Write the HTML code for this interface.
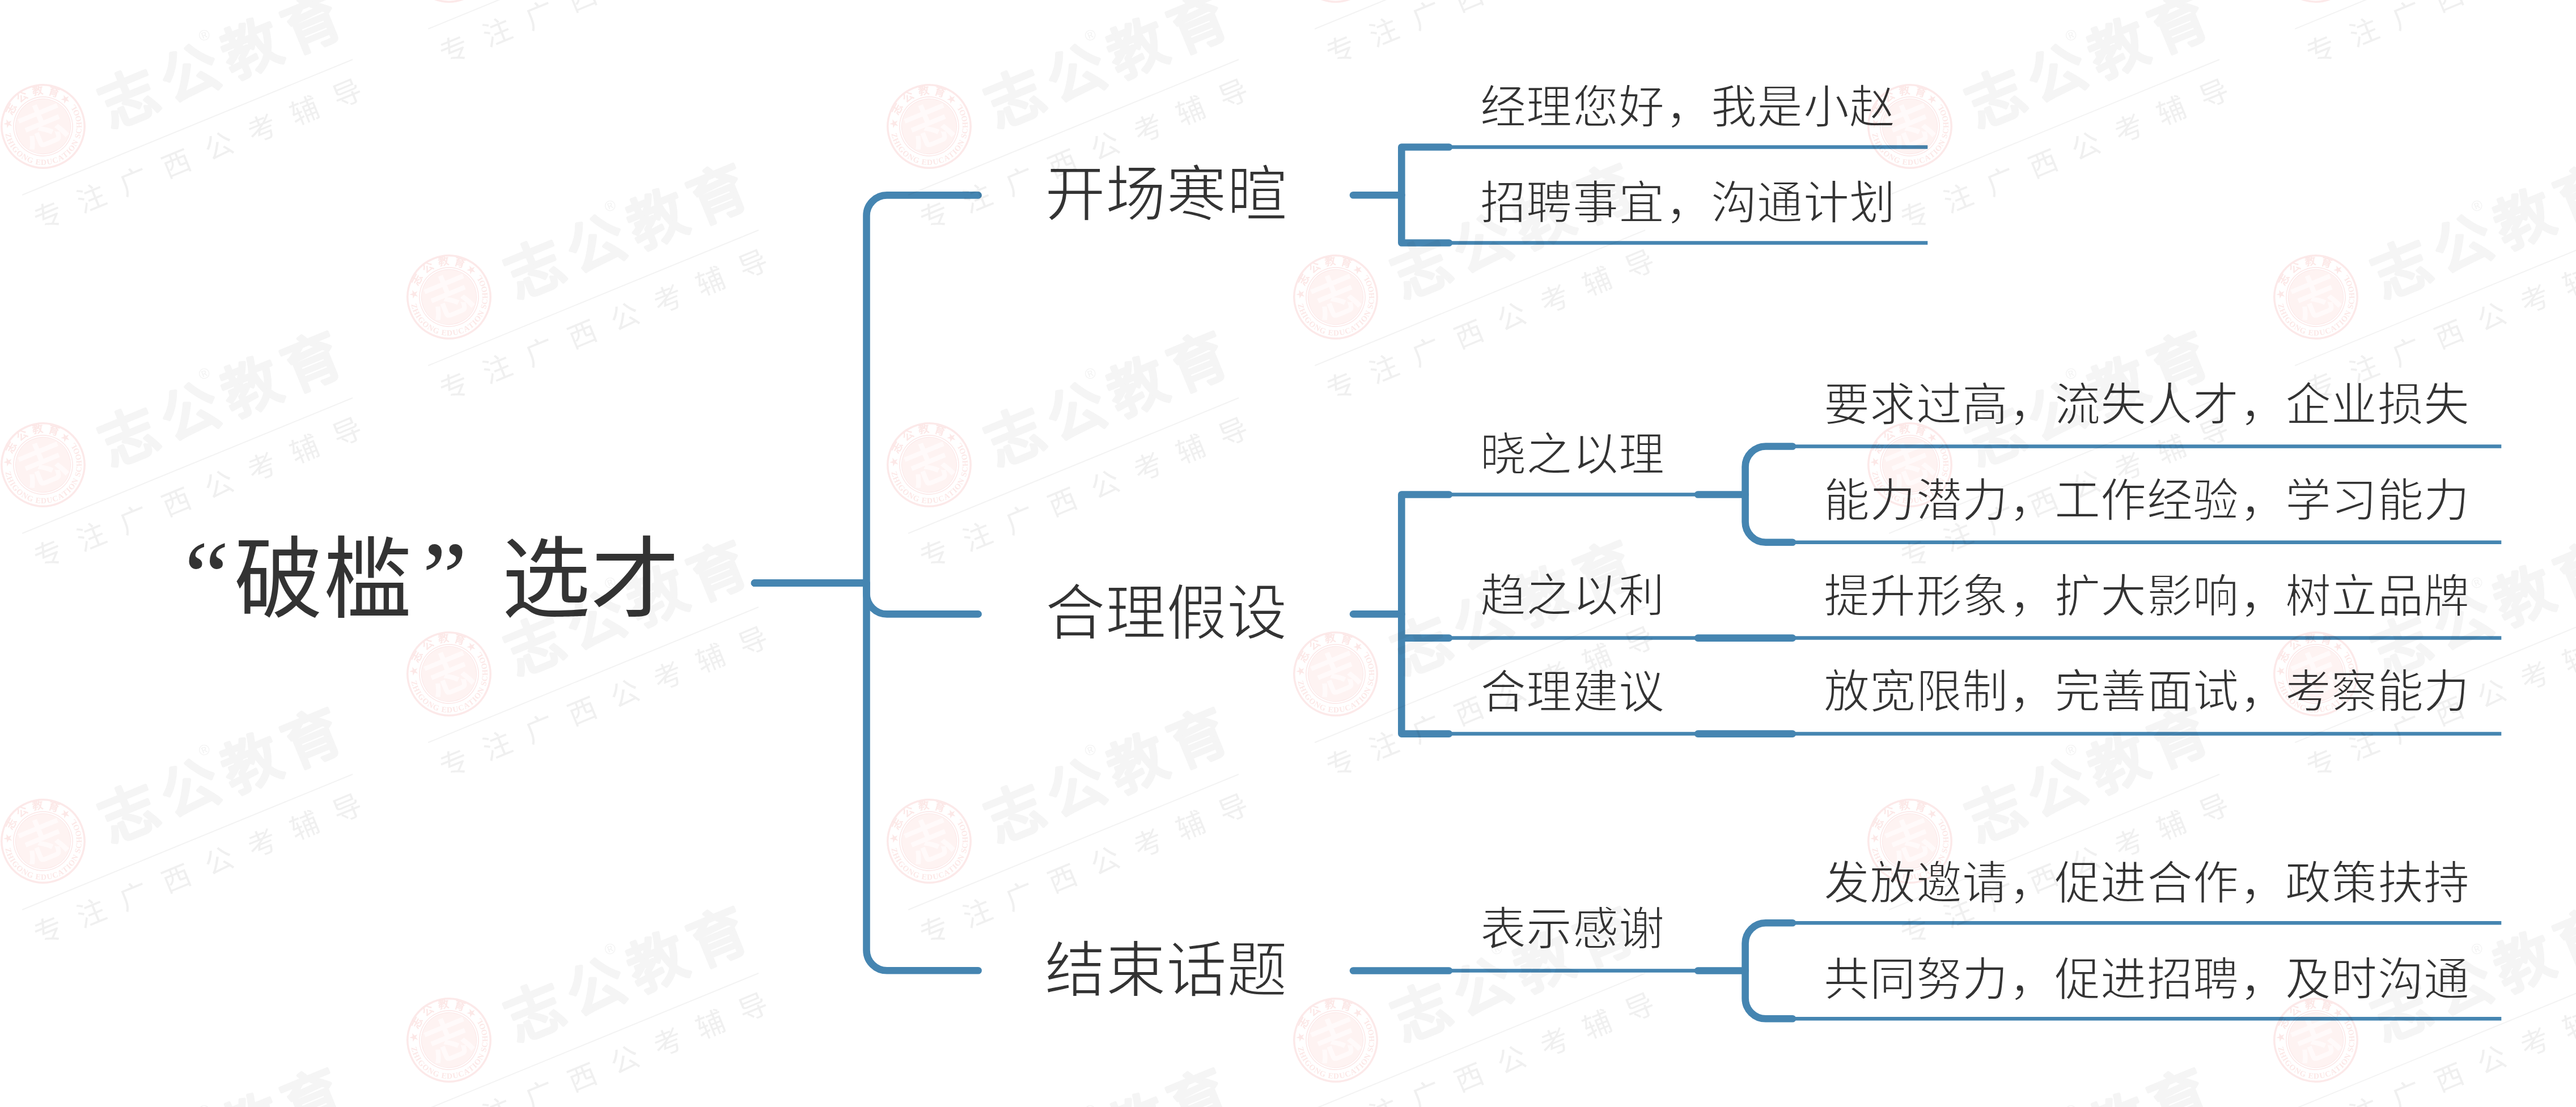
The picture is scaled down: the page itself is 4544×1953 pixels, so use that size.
<!DOCTYPE html>
<html lang="zh-CN"><head><meta charset="utf-8"><title>破槛选才</title>
<style>
html,body{margin:0;padding:0;background:#fff;overflow:hidden;}
body{width:4544px;height:1953px;position:relative;overflow:hidden;font-family:"Liberation Serif",serif;color:#333333;}
.t{position:absolute;white-space:nowrap;line-height:1;}
svg{position:absolute;left:0;top:0;}
.wm{mix-blend-mode:multiply;pointer-events:none;}
</style></head><body>
<svg width="4544" height="1953" viewBox="0 0 4544 1953">
<g fill="none" stroke="#4585b1" stroke-linecap="butt"><path stroke-width="6.5" d="M2472.3 259.5H3400.3M2472.3 428.5H3400.3M2472.3 872.5H2996M2472.3 1125.6H4412.3M2472.3 1294.6H4412.3M2472.3 1712.5H2996M3114.6 787.5H4412.3M3114.6 956.8H4412.3M3114.6 1628.3H4412.3M3114.6 1797.3H4412.3"/></g>
<g fill="none" stroke="#4585b1" stroke-linecap="round" stroke-linejoin="round" stroke-width="12.6">
<path d="M1331 1028.6H1528.5V380.4A36 36 0 0 1 1564.5 344.4H1725.6"/>
<path d="M1331 1028.6H1528.5V1047.4A36 36 0 0 0 1564.5 1083.4H1725.6"/>
<path d="M1331 1028.6H1528.5V1676.3A36 36 0 0 0 1564.5 1712.3H1725.6"/>
<path d="M2387 344.3H2472.3"/>
<path d="M2556 259.5H2472.3V428.5H2556"/>
<path d="M2387 1083.4H2472.3"/>
<path d="M2556 872.5H2472.3V1294.6H2556M2472.3 1125.6H2556"/>
<path d="M2387 1712.5H2556"/>
<path d="M2995 872.5H3078.6"/>
<path d="M3162 787.5H3114.6A36 36 0 0 0 3078.6 823.5V920.8A36 36 0 0 0 3114.6 956.8H3162"/>
<path d="M2995 1125.6H3162M2995 1294.6H3162"/>
<path d="M2995 1712.5H3078.6"/>
<path d="M3162 1628.3H3114.6A36 36 0 0 0 3078.6 1664.3V1761.3A36 36 0 0 0 3114.6 1797.3H3162"/>
</g></svg>
<div class="t" style="left:325px;top:928px;font-size:178px;font-weight:400;">“</div>
<div class="t" style="left:413px;top:947px;font-size:156.5px;font-weight:500;">破槛</div>
<div class="t" style="left:745px;top:930px;font-size:178px;font-weight:400;">”</div>
<div class="t" style="left:885px;top:947px;font-size:156.5px;font-weight:500;">选才</div>
<div class="t" style="left:1843px;top:291px;font-size:107px;font-weight:400;-webkit-text-stroke:2.2px #fff;">开场寒暄</div>
<div class="t" style="left:1843px;top:1030px;font-size:107px;font-weight:400;-webkit-text-stroke:2.2px #fff;">合理假设</div>
<div class="t" style="left:1843px;top:1660px;font-size:107px;font-weight:400;-webkit-text-stroke:2.2px #fff;">结束话题</div>
<div class="t" style="left:2611px;top:150px;font-size:81px;font-weight:400;-webkit-text-stroke:1.8px #fff;letter-spacing:0.4px;">经理您好，我是小赵</div>
<div class="t" style="left:2611px;top:319px;font-size:81px;font-weight:400;-webkit-text-stroke:1.8px #fff;letter-spacing:0.4px;">招聘事宜，沟通计划</div>
<div class="t" style="left:2611px;top:763px;font-size:81px;font-weight:400;-webkit-text-stroke:1.8px #fff;letter-spacing:0.4px;">晓之以理</div>
<div class="t" style="left:2611px;top:1012px;font-size:81px;font-weight:400;-webkit-text-stroke:1.8px #fff;letter-spacing:0.4px;">趋之以利</div>
<div class="t" style="left:2611px;top:1182px;font-size:81px;font-weight:400;-webkit-text-stroke:1.8px #fff;letter-spacing:0.4px;">合理建议</div>
<div class="t" style="left:2611px;top:1600px;font-size:81px;font-weight:400;-webkit-text-stroke:1.8px #fff;letter-spacing:0.4px;">表示感谢</div>
<div class="t" style="left:3217px;top:675px;font-size:81px;font-weight:400;-webkit-text-stroke:1.8px #fff;letter-spacing:0.4px;">要求过高，流失人才，企业损失</div>
<div class="t" style="left:3217px;top:844px;font-size:81px;font-weight:400;-webkit-text-stroke:1.8px #fff;letter-spacing:0.4px;">能力潜力，工作经验，学习能力</div>
<div class="t" style="left:3217px;top:1013px;font-size:81px;font-weight:400;-webkit-text-stroke:1.8px #fff;letter-spacing:0.4px;">提升形象，扩大影响，树立品牌</div>
<div class="t" style="left:3217px;top:1181px;font-size:81px;font-weight:400;-webkit-text-stroke:1.8px #fff;letter-spacing:0.4px;">放宽限制，完善面试，考察能力</div>
<div class="t" style="left:3217px;top:1519px;font-size:81px;font-weight:400;-webkit-text-stroke:1.8px #fff;letter-spacing:0.4px;">发放邀请，促进合作，政策扶持</div>
<div class="t" style="left:3217px;top:1689px;font-size:81px;font-weight:400;-webkit-text-stroke:1.8px #fff;letter-spacing:0.4px;">共同努力，促进招聘，及时沟通</div>
<svg class="wm" width="4544" height="1953" viewBox="0 0 4544 1953" font-family="Liberation Sans, sans-serif"><g transform="translate(76 223) rotate(-22.3)"><circle r="73" fill="none" stroke="#fce9e9" stroke-width="3.5"/>
<circle r="48" fill="#fef3f2"/>
<circle r="52" fill="none" stroke="#fce9e9" stroke-width="1.6"/>
<circle r="48.5" fill="none" stroke="#fce9e9" stroke-width="1.2"/>
<text x="0" y="28" font-size="80" font-weight="bold" text-anchor="middle" fill="#fffafa">志</text>
<g fill="#fce8e7"><text x="-36.2" y="-44.0" transform="rotate(320.6 -36.2 -44.0)" font-size="19" font-weight="bold" text-anchor="middle">志</text><text x="-13.0" y="-55.5" transform="rotate(346.9 -13.0 -55.5)" font-size="19" font-weight="bold" text-anchor="middle">公</text><text x="13.0" y="-55.5" transform="rotate(373.1 13.0 -55.5)" font-size="19" font-weight="bold" text-anchor="middle">教</text><text x="36.2" y="-44.0" transform="rotate(399.4 36.2 -44.0)" font-size="19" font-weight="bold" text-anchor="middle">育</text><g font-family="Liberation Serif, serif" font-size="14" font-weight="bold"><text x="-67.4" y="-8.7" transform="rotate(97.4 -67.4 -8.7)" text-anchor="middle">Z</text><text x="-68.0" y="2.3" transform="rotate(88.0 -68.0 2.3)" text-anchor="middle">H</text><text x="-67.0" y="11.4" transform="rotate(80.3 -67.0 11.4)" text-anchor="middle">I</text><text x="-64.9" y="20.3" transform="rotate(72.7 -64.9 20.3)" text-anchor="middle">G</text><text x="-60.4" y="31.2" transform="rotate(62.7 -60.4 31.2)" text-anchor="middle">O</text><text x="-54.3" y="40.9" transform="rotate(53.0 -54.3 40.9)" text-anchor="middle">N</text><text x="-46.7" y="49.4" transform="rotate(43.4 -46.7 49.4)" text-anchor="middle">G</text><text x="-34.3" y="58.7" transform="rotate(30.3 -34.3 58.7)" text-anchor="middle">E</text><text x="-24.7" y="63.3" transform="rotate(21.3 -24.7 63.3)" text-anchor="middle">D</text><text x="-14.1" y="66.5" transform="rotate(12.0 -14.1 66.5)" text-anchor="middle">U</text><text x="-3.2" y="67.9" transform="rotate(2.7 -3.2 67.9)" text-anchor="middle">C</text><text x="7.8" y="67.5" transform="rotate(-6.6 7.8 67.5)" text-anchor="middle">A</text><text x="18.3" y="65.5" transform="rotate(-15.6 18.3 65.5)" text-anchor="middle">T</text><text x="26.2" y="62.8" transform="rotate(-22.6 26.2 62.8)" text-anchor="middle">I</text><text x="34.3" y="58.7" transform="rotate(-30.3 34.3 58.7)" text-anchor="middle">O</text><text x="43.7" y="52.1" transform="rotate(-40.0 43.7 52.1)" text-anchor="middle">N</text><text x="53.6" y="41.8" transform="rotate(-52.1 53.6 41.8)" text-anchor="middle">S</text><text x="59.1" y="33.6" transform="rotate(-60.4 59.1 33.6)" text-anchor="middle">C</text><text x="63.9" y="23.2" transform="rotate(-70.1 63.9 23.2)" text-anchor="middle">H</text><text x="67.0" y="11.8" transform="rotate(-80.0 67.0 11.8)" text-anchor="middle">O</text><text x="68.0" y="-0.0" transform="rotate(-90.0 68.0 -0.0)" text-anchor="middle">O</text><text x="67.1" y="-11.0" transform="rotate(-99.3 67.1 -11.0)" text-anchor="middle">L</text></g><text x="-54.8" y="-23" font-size="16" text-anchor="middle">★</text><text x="54.2" y="-24" font-size="16" text-anchor="middle">★</text></g>
<text x="107.7" y="49" font-size="102" letter-spacing="14.4" font-weight="bold" fill="#f5f5f5" stroke="#f5f5f5" stroke-width="2.5" stroke-linejoin="round">志公教育</text>
<text x="324" y="-32" font-size="26" text-anchor="middle" fill="#f3f3f3">®</text>
<path d="M-80 98H550" stroke="#f3f3f3" stroke-width="2"/>
<text x="-76" y="168" font-size="50" letter-spacing="31.3" fill="#f0f0f0">专注广西公考辅导</text></g>
<g transform="translate(76 820) rotate(-22.3)"><circle r="73" fill="none" stroke="#fce9e9" stroke-width="3.5"/>
<circle r="48" fill="#fef3f2"/>
<circle r="52" fill="none" stroke="#fce9e9" stroke-width="1.6"/>
<circle r="48.5" fill="none" stroke="#fce9e9" stroke-width="1.2"/>
<text x="0" y="28" font-size="80" font-weight="bold" text-anchor="middle" fill="#fffafa">志</text>
<g fill="#fce8e7"><text x="-36.2" y="-44.0" transform="rotate(320.6 -36.2 -44.0)" font-size="19" font-weight="bold" text-anchor="middle">志</text><text x="-13.0" y="-55.5" transform="rotate(346.9 -13.0 -55.5)" font-size="19" font-weight="bold" text-anchor="middle">公</text><text x="13.0" y="-55.5" transform="rotate(373.1 13.0 -55.5)" font-size="19" font-weight="bold" text-anchor="middle">教</text><text x="36.2" y="-44.0" transform="rotate(399.4 36.2 -44.0)" font-size="19" font-weight="bold" text-anchor="middle">育</text><g font-family="Liberation Serif, serif" font-size="14" font-weight="bold"><text x="-67.4" y="-8.7" transform="rotate(97.4 -67.4 -8.7)" text-anchor="middle">Z</text><text x="-68.0" y="2.3" transform="rotate(88.0 -68.0 2.3)" text-anchor="middle">H</text><text x="-67.0" y="11.4" transform="rotate(80.3 -67.0 11.4)" text-anchor="middle">I</text><text x="-64.9" y="20.3" transform="rotate(72.7 -64.9 20.3)" text-anchor="middle">G</text><text x="-60.4" y="31.2" transform="rotate(62.7 -60.4 31.2)" text-anchor="middle">O</text><text x="-54.3" y="40.9" transform="rotate(53.0 -54.3 40.9)" text-anchor="middle">N</text><text x="-46.7" y="49.4" transform="rotate(43.4 -46.7 49.4)" text-anchor="middle">G</text><text x="-34.3" y="58.7" transform="rotate(30.3 -34.3 58.7)" text-anchor="middle">E</text><text x="-24.7" y="63.3" transform="rotate(21.3 -24.7 63.3)" text-anchor="middle">D</text><text x="-14.1" y="66.5" transform="rotate(12.0 -14.1 66.5)" text-anchor="middle">U</text><text x="-3.2" y="67.9" transform="rotate(2.7 -3.2 67.9)" text-anchor="middle">C</text><text x="7.8" y="67.5" transform="rotate(-6.6 7.8 67.5)" text-anchor="middle">A</text><text x="18.3" y="65.5" transform="rotate(-15.6 18.3 65.5)" text-anchor="middle">T</text><text x="26.2" y="62.8" transform="rotate(-22.6 26.2 62.8)" text-anchor="middle">I</text><text x="34.3" y="58.7" transform="rotate(-30.3 34.3 58.7)" text-anchor="middle">O</text><text x="43.7" y="52.1" transform="rotate(-40.0 43.7 52.1)" text-anchor="middle">N</text><text x="53.6" y="41.8" transform="rotate(-52.1 53.6 41.8)" text-anchor="middle">S</text><text x="59.1" y="33.6" transform="rotate(-60.4 59.1 33.6)" text-anchor="middle">C</text><text x="63.9" y="23.2" transform="rotate(-70.1 63.9 23.2)" text-anchor="middle">H</text><text x="67.0" y="11.8" transform="rotate(-80.0 67.0 11.8)" text-anchor="middle">O</text><text x="68.0" y="-0.0" transform="rotate(-90.0 68.0 -0.0)" text-anchor="middle">O</text><text x="67.1" y="-11.0" transform="rotate(-99.3 67.1 -11.0)" text-anchor="middle">L</text></g><text x="-54.8" y="-23" font-size="16" text-anchor="middle">★</text><text x="54.2" y="-24" font-size="16" text-anchor="middle">★</text></g>
<text x="107.7" y="49" font-size="102" letter-spacing="14.4" font-weight="bold" fill="#f5f5f5" stroke="#f5f5f5" stroke-width="2.5" stroke-linejoin="round">志公教育</text>
<text x="324" y="-32" font-size="26" text-anchor="middle" fill="#f3f3f3">®</text>
<path d="M-80 98H550" stroke="#f3f3f3" stroke-width="2"/>
<text x="-76" y="168" font-size="50" letter-spacing="31.3" fill="#f0f0f0">专注广西公考辅导</text></g>
<g transform="translate(76 1484) rotate(-22.3)"><circle r="73" fill="none" stroke="#fce9e9" stroke-width="3.5"/>
<circle r="48" fill="#fef3f2"/>
<circle r="52" fill="none" stroke="#fce9e9" stroke-width="1.6"/>
<circle r="48.5" fill="none" stroke="#fce9e9" stroke-width="1.2"/>
<text x="0" y="28" font-size="80" font-weight="bold" text-anchor="middle" fill="#fffafa">志</text>
<g fill="#fce8e7"><text x="-36.2" y="-44.0" transform="rotate(320.6 -36.2 -44.0)" font-size="19" font-weight="bold" text-anchor="middle">志</text><text x="-13.0" y="-55.5" transform="rotate(346.9 -13.0 -55.5)" font-size="19" font-weight="bold" text-anchor="middle">公</text><text x="13.0" y="-55.5" transform="rotate(373.1 13.0 -55.5)" font-size="19" font-weight="bold" text-anchor="middle">教</text><text x="36.2" y="-44.0" transform="rotate(399.4 36.2 -44.0)" font-size="19" font-weight="bold" text-anchor="middle">育</text><g font-family="Liberation Serif, serif" font-size="14" font-weight="bold"><text x="-67.4" y="-8.7" transform="rotate(97.4 -67.4 -8.7)" text-anchor="middle">Z</text><text x="-68.0" y="2.3" transform="rotate(88.0 -68.0 2.3)" text-anchor="middle">H</text><text x="-67.0" y="11.4" transform="rotate(80.3 -67.0 11.4)" text-anchor="middle">I</text><text x="-64.9" y="20.3" transform="rotate(72.7 -64.9 20.3)" text-anchor="middle">G</text><text x="-60.4" y="31.2" transform="rotate(62.7 -60.4 31.2)" text-anchor="middle">O</text><text x="-54.3" y="40.9" transform="rotate(53.0 -54.3 40.9)" text-anchor="middle">N</text><text x="-46.7" y="49.4" transform="rotate(43.4 -46.7 49.4)" text-anchor="middle">G</text><text x="-34.3" y="58.7" transform="rotate(30.3 -34.3 58.7)" text-anchor="middle">E</text><text x="-24.7" y="63.3" transform="rotate(21.3 -24.7 63.3)" text-anchor="middle">D</text><text x="-14.1" y="66.5" transform="rotate(12.0 -14.1 66.5)" text-anchor="middle">U</text><text x="-3.2" y="67.9" transform="rotate(2.7 -3.2 67.9)" text-anchor="middle">C</text><text x="7.8" y="67.5" transform="rotate(-6.6 7.8 67.5)" text-anchor="middle">A</text><text x="18.3" y="65.5" transform="rotate(-15.6 18.3 65.5)" text-anchor="middle">T</text><text x="26.2" y="62.8" transform="rotate(-22.6 26.2 62.8)" text-anchor="middle">I</text><text x="34.3" y="58.7" transform="rotate(-30.3 34.3 58.7)" text-anchor="middle">O</text><text x="43.7" y="52.1" transform="rotate(-40.0 43.7 52.1)" text-anchor="middle">N</text><text x="53.6" y="41.8" transform="rotate(-52.1 53.6 41.8)" text-anchor="middle">S</text><text x="59.1" y="33.6" transform="rotate(-60.4 59.1 33.6)" text-anchor="middle">C</text><text x="63.9" y="23.2" transform="rotate(-70.1 63.9 23.2)" text-anchor="middle">H</text><text x="67.0" y="11.8" transform="rotate(-80.0 67.0 11.8)" text-anchor="middle">O</text><text x="68.0" y="-0.0" transform="rotate(-90.0 68.0 -0.0)" text-anchor="middle">O</text><text x="67.1" y="-11.0" transform="rotate(-99.3 67.1 -11.0)" text-anchor="middle">L</text></g><text x="-54.8" y="-23" font-size="16" text-anchor="middle">★</text><text x="54.2" y="-24" font-size="16" text-anchor="middle">★</text></g>
<text x="107.7" y="49" font-size="102" letter-spacing="14.4" font-weight="bold" fill="#f5f5f5" stroke="#f5f5f5" stroke-width="2.5" stroke-linejoin="round">志公教育</text>
<text x="324" y="-32" font-size="26" text-anchor="middle" fill="#f3f3f3">®</text>
<path d="M-80 98H550" stroke="#f3f3f3" stroke-width="2"/>
<text x="-76" y="168" font-size="50" letter-spacing="31.3" fill="#f0f0f0">专注广西公考辅导</text></g>
<g transform="translate(76 2120) rotate(-22.3)"><circle r="73" fill="none" stroke="#fce9e9" stroke-width="3.5"/>
<circle r="48" fill="#fef3f2"/>
<circle r="52" fill="none" stroke="#fce9e9" stroke-width="1.6"/>
<circle r="48.5" fill="none" stroke="#fce9e9" stroke-width="1.2"/>
<text x="0" y="28" font-size="80" font-weight="bold" text-anchor="middle" fill="#fffafa">志</text>
<g fill="#fce8e7"><text x="-36.2" y="-44.0" transform="rotate(320.6 -36.2 -44.0)" font-size="19" font-weight="bold" text-anchor="middle">志</text><text x="-13.0" y="-55.5" transform="rotate(346.9 -13.0 -55.5)" font-size="19" font-weight="bold" text-anchor="middle">公</text><text x="13.0" y="-55.5" transform="rotate(373.1 13.0 -55.5)" font-size="19" font-weight="bold" text-anchor="middle">教</text><text x="36.2" y="-44.0" transform="rotate(399.4 36.2 -44.0)" font-size="19" font-weight="bold" text-anchor="middle">育</text><g font-family="Liberation Serif, serif" font-size="14" font-weight="bold"><text x="-67.4" y="-8.7" transform="rotate(97.4 -67.4 -8.7)" text-anchor="middle">Z</text><text x="-68.0" y="2.3" transform="rotate(88.0 -68.0 2.3)" text-anchor="middle">H</text><text x="-67.0" y="11.4" transform="rotate(80.3 -67.0 11.4)" text-anchor="middle">I</text><text x="-64.9" y="20.3" transform="rotate(72.7 -64.9 20.3)" text-anchor="middle">G</text><text x="-60.4" y="31.2" transform="rotate(62.7 -60.4 31.2)" text-anchor="middle">O</text><text x="-54.3" y="40.9" transform="rotate(53.0 -54.3 40.9)" text-anchor="middle">N</text><text x="-46.7" y="49.4" transform="rotate(43.4 -46.7 49.4)" text-anchor="middle">G</text><text x="-34.3" y="58.7" transform="rotate(30.3 -34.3 58.7)" text-anchor="middle">E</text><text x="-24.7" y="63.3" transform="rotate(21.3 -24.7 63.3)" text-anchor="middle">D</text><text x="-14.1" y="66.5" transform="rotate(12.0 -14.1 66.5)" text-anchor="middle">U</text><text x="-3.2" y="67.9" transform="rotate(2.7 -3.2 67.9)" text-anchor="middle">C</text><text x="7.8" y="67.5" transform="rotate(-6.6 7.8 67.5)" text-anchor="middle">A</text><text x="18.3" y="65.5" transform="rotate(-15.6 18.3 65.5)" text-anchor="middle">T</text><text x="26.2" y="62.8" transform="rotate(-22.6 26.2 62.8)" text-anchor="middle">I</text><text x="34.3" y="58.7" transform="rotate(-30.3 34.3 58.7)" text-anchor="middle">O</text><text x="43.7" y="52.1" transform="rotate(-40.0 43.7 52.1)" text-anchor="middle">N</text><text x="53.6" y="41.8" transform="rotate(-52.1 53.6 41.8)" text-anchor="middle">S</text><text x="59.1" y="33.6" transform="rotate(-60.4 59.1 33.6)" text-anchor="middle">C</text><text x="63.9" y="23.2" transform="rotate(-70.1 63.9 23.2)" text-anchor="middle">H</text><text x="67.0" y="11.8" transform="rotate(-80.0 67.0 11.8)" text-anchor="middle">O</text><text x="68.0" y="-0.0" transform="rotate(-90.0 68.0 -0.0)" text-anchor="middle">O</text><text x="67.1" y="-11.0" transform="rotate(-99.3 67.1 -11.0)" text-anchor="middle">L</text></g><text x="-54.8" y="-23" font-size="16" text-anchor="middle">★</text><text x="54.2" y="-24" font-size="16" text-anchor="middle">★</text></g>
<text x="107.7" y="49" font-size="102" letter-spacing="14.4" font-weight="bold" fill="#f5f5f5" stroke="#f5f5f5" stroke-width="2.5" stroke-linejoin="round">志公教育</text>
<text x="324" y="-32" font-size="26" text-anchor="middle" fill="#f3f3f3">®</text>
<path d="M-80 98H550" stroke="#f3f3f3" stroke-width="2"/>
<text x="-76" y="168" font-size="50" letter-spacing="31.3" fill="#f0f0f0">专注广西公考辅导</text></g>
<g transform="translate(1639 223) rotate(-22.3)"><circle r="73" fill="none" stroke="#fce9e9" stroke-width="3.5"/>
<circle r="48" fill="#fef3f2"/>
<circle r="52" fill="none" stroke="#fce9e9" stroke-width="1.6"/>
<circle r="48.5" fill="none" stroke="#fce9e9" stroke-width="1.2"/>
<text x="0" y="28" font-size="80" font-weight="bold" text-anchor="middle" fill="#fffafa">志</text>
<g fill="#fce8e7"><text x="-36.2" y="-44.0" transform="rotate(320.6 -36.2 -44.0)" font-size="19" font-weight="bold" text-anchor="middle">志</text><text x="-13.0" y="-55.5" transform="rotate(346.9 -13.0 -55.5)" font-size="19" font-weight="bold" text-anchor="middle">公</text><text x="13.0" y="-55.5" transform="rotate(373.1 13.0 -55.5)" font-size="19" font-weight="bold" text-anchor="middle">教</text><text x="36.2" y="-44.0" transform="rotate(399.4 36.2 -44.0)" font-size="19" font-weight="bold" text-anchor="middle">育</text><g font-family="Liberation Serif, serif" font-size="14" font-weight="bold"><text x="-67.4" y="-8.7" transform="rotate(97.4 -67.4 -8.7)" text-anchor="middle">Z</text><text x="-68.0" y="2.3" transform="rotate(88.0 -68.0 2.3)" text-anchor="middle">H</text><text x="-67.0" y="11.4" transform="rotate(80.3 -67.0 11.4)" text-anchor="middle">I</text><text x="-64.9" y="20.3" transform="rotate(72.7 -64.9 20.3)" text-anchor="middle">G</text><text x="-60.4" y="31.2" transform="rotate(62.7 -60.4 31.2)" text-anchor="middle">O</text><text x="-54.3" y="40.9" transform="rotate(53.0 -54.3 40.9)" text-anchor="middle">N</text><text x="-46.7" y="49.4" transform="rotate(43.4 -46.7 49.4)" text-anchor="middle">G</text><text x="-34.3" y="58.7" transform="rotate(30.3 -34.3 58.7)" text-anchor="middle">E</text><text x="-24.7" y="63.3" transform="rotate(21.3 -24.7 63.3)" text-anchor="middle">D</text><text x="-14.1" y="66.5" transform="rotate(12.0 -14.1 66.5)" text-anchor="middle">U</text><text x="-3.2" y="67.9" transform="rotate(2.7 -3.2 67.9)" text-anchor="middle">C</text><text x="7.8" y="67.5" transform="rotate(-6.6 7.8 67.5)" text-anchor="middle">A</text><text x="18.3" y="65.5" transform="rotate(-15.6 18.3 65.5)" text-anchor="middle">T</text><text x="26.2" y="62.8" transform="rotate(-22.6 26.2 62.8)" text-anchor="middle">I</text><text x="34.3" y="58.7" transform="rotate(-30.3 34.3 58.7)" text-anchor="middle">O</text><text x="43.7" y="52.1" transform="rotate(-40.0 43.7 52.1)" text-anchor="middle">N</text><text x="53.6" y="41.8" transform="rotate(-52.1 53.6 41.8)" text-anchor="middle">S</text><text x="59.1" y="33.6" transform="rotate(-60.4 59.1 33.6)" text-anchor="middle">C</text><text x="63.9" y="23.2" transform="rotate(-70.1 63.9 23.2)" text-anchor="middle">H</text><text x="67.0" y="11.8" transform="rotate(-80.0 67.0 11.8)" text-anchor="middle">O</text><text x="68.0" y="-0.0" transform="rotate(-90.0 68.0 -0.0)" text-anchor="middle">O</text><text x="67.1" y="-11.0" transform="rotate(-99.3 67.1 -11.0)" text-anchor="middle">L</text></g><text x="-54.8" y="-23" font-size="16" text-anchor="middle">★</text><text x="54.2" y="-24" font-size="16" text-anchor="middle">★</text></g>
<text x="107.7" y="49" font-size="102" letter-spacing="14.4" font-weight="bold" fill="#f5f5f5" stroke="#f5f5f5" stroke-width="2.5" stroke-linejoin="round">志公教育</text>
<text x="324" y="-32" font-size="26" text-anchor="middle" fill="#f3f3f3">®</text>
<path d="M-80 98H550" stroke="#f3f3f3" stroke-width="2"/>
<text x="-76" y="168" font-size="50" letter-spacing="31.3" fill="#f0f0f0">专注广西公考辅导</text></g>
<g transform="translate(1639 820) rotate(-22.3)"><circle r="73" fill="none" stroke="#fce9e9" stroke-width="3.5"/>
<circle r="48" fill="#fef3f2"/>
<circle r="52" fill="none" stroke="#fce9e9" stroke-width="1.6"/>
<circle r="48.5" fill="none" stroke="#fce9e9" stroke-width="1.2"/>
<text x="0" y="28" font-size="80" font-weight="bold" text-anchor="middle" fill="#fffafa">志</text>
<g fill="#fce8e7"><text x="-36.2" y="-44.0" transform="rotate(320.6 -36.2 -44.0)" font-size="19" font-weight="bold" text-anchor="middle">志</text><text x="-13.0" y="-55.5" transform="rotate(346.9 -13.0 -55.5)" font-size="19" font-weight="bold" text-anchor="middle">公</text><text x="13.0" y="-55.5" transform="rotate(373.1 13.0 -55.5)" font-size="19" font-weight="bold" text-anchor="middle">教</text><text x="36.2" y="-44.0" transform="rotate(399.4 36.2 -44.0)" font-size="19" font-weight="bold" text-anchor="middle">育</text><g font-family="Liberation Serif, serif" font-size="14" font-weight="bold"><text x="-67.4" y="-8.7" transform="rotate(97.4 -67.4 -8.7)" text-anchor="middle">Z</text><text x="-68.0" y="2.3" transform="rotate(88.0 -68.0 2.3)" text-anchor="middle">H</text><text x="-67.0" y="11.4" transform="rotate(80.3 -67.0 11.4)" text-anchor="middle">I</text><text x="-64.9" y="20.3" transform="rotate(72.7 -64.9 20.3)" text-anchor="middle">G</text><text x="-60.4" y="31.2" transform="rotate(62.7 -60.4 31.2)" text-anchor="middle">O</text><text x="-54.3" y="40.9" transform="rotate(53.0 -54.3 40.9)" text-anchor="middle">N</text><text x="-46.7" y="49.4" transform="rotate(43.4 -46.7 49.4)" text-anchor="middle">G</text><text x="-34.3" y="58.7" transform="rotate(30.3 -34.3 58.7)" text-anchor="middle">E</text><text x="-24.7" y="63.3" transform="rotate(21.3 -24.7 63.3)" text-anchor="middle">D</text><text x="-14.1" y="66.5" transform="rotate(12.0 -14.1 66.5)" text-anchor="middle">U</text><text x="-3.2" y="67.9" transform="rotate(2.7 -3.2 67.9)" text-anchor="middle">C</text><text x="7.8" y="67.5" transform="rotate(-6.6 7.8 67.5)" text-anchor="middle">A</text><text x="18.3" y="65.5" transform="rotate(-15.6 18.3 65.5)" text-anchor="middle">T</text><text x="26.2" y="62.8" transform="rotate(-22.6 26.2 62.8)" text-anchor="middle">I</text><text x="34.3" y="58.7" transform="rotate(-30.3 34.3 58.7)" text-anchor="middle">O</text><text x="43.7" y="52.1" transform="rotate(-40.0 43.7 52.1)" text-anchor="middle">N</text><text x="53.6" y="41.8" transform="rotate(-52.1 53.6 41.8)" text-anchor="middle">S</text><text x="59.1" y="33.6" transform="rotate(-60.4 59.1 33.6)" text-anchor="middle">C</text><text x="63.9" y="23.2" transform="rotate(-70.1 63.9 23.2)" text-anchor="middle">H</text><text x="67.0" y="11.8" transform="rotate(-80.0 67.0 11.8)" text-anchor="middle">O</text><text x="68.0" y="-0.0" transform="rotate(-90.0 68.0 -0.0)" text-anchor="middle">O</text><text x="67.1" y="-11.0" transform="rotate(-99.3 67.1 -11.0)" text-anchor="middle">L</text></g><text x="-54.8" y="-23" font-size="16" text-anchor="middle">★</text><text x="54.2" y="-24" font-size="16" text-anchor="middle">★</text></g>
<text x="107.7" y="49" font-size="102" letter-spacing="14.4" font-weight="bold" fill="#f5f5f5" stroke="#f5f5f5" stroke-width="2.5" stroke-linejoin="round">志公教育</text>
<text x="324" y="-32" font-size="26" text-anchor="middle" fill="#f3f3f3">®</text>
<path d="M-80 98H550" stroke="#f3f3f3" stroke-width="2"/>
<text x="-76" y="168" font-size="50" letter-spacing="31.3" fill="#f0f0f0">专注广西公考辅导</text></g>
<g transform="translate(1639 1484) rotate(-22.3)"><circle r="73" fill="none" stroke="#fce9e9" stroke-width="3.5"/>
<circle r="48" fill="#fef3f2"/>
<circle r="52" fill="none" stroke="#fce9e9" stroke-width="1.6"/>
<circle r="48.5" fill="none" stroke="#fce9e9" stroke-width="1.2"/>
<text x="0" y="28" font-size="80" font-weight="bold" text-anchor="middle" fill="#fffafa">志</text>
<g fill="#fce8e7"><text x="-36.2" y="-44.0" transform="rotate(320.6 -36.2 -44.0)" font-size="19" font-weight="bold" text-anchor="middle">志</text><text x="-13.0" y="-55.5" transform="rotate(346.9 -13.0 -55.5)" font-size="19" font-weight="bold" text-anchor="middle">公</text><text x="13.0" y="-55.5" transform="rotate(373.1 13.0 -55.5)" font-size="19" font-weight="bold" text-anchor="middle">教</text><text x="36.2" y="-44.0" transform="rotate(399.4 36.2 -44.0)" font-size="19" font-weight="bold" text-anchor="middle">育</text><g font-family="Liberation Serif, serif" font-size="14" font-weight="bold"><text x="-67.4" y="-8.7" transform="rotate(97.4 -67.4 -8.7)" text-anchor="middle">Z</text><text x="-68.0" y="2.3" transform="rotate(88.0 -68.0 2.3)" text-anchor="middle">H</text><text x="-67.0" y="11.4" transform="rotate(80.3 -67.0 11.4)" text-anchor="middle">I</text><text x="-64.9" y="20.3" transform="rotate(72.7 -64.9 20.3)" text-anchor="middle">G</text><text x="-60.4" y="31.2" transform="rotate(62.7 -60.4 31.2)" text-anchor="middle">O</text><text x="-54.3" y="40.9" transform="rotate(53.0 -54.3 40.9)" text-anchor="middle">N</text><text x="-46.7" y="49.4" transform="rotate(43.4 -46.7 49.4)" text-anchor="middle">G</text><text x="-34.3" y="58.7" transform="rotate(30.3 -34.3 58.7)" text-anchor="middle">E</text><text x="-24.7" y="63.3" transform="rotate(21.3 -24.7 63.3)" text-anchor="middle">D</text><text x="-14.1" y="66.5" transform="rotate(12.0 -14.1 66.5)" text-anchor="middle">U</text><text x="-3.2" y="67.9" transform="rotate(2.7 -3.2 67.9)" text-anchor="middle">C</text><text x="7.8" y="67.5" transform="rotate(-6.6 7.8 67.5)" text-anchor="middle">A</text><text x="18.3" y="65.5" transform="rotate(-15.6 18.3 65.5)" text-anchor="middle">T</text><text x="26.2" y="62.8" transform="rotate(-22.6 26.2 62.8)" text-anchor="middle">I</text><text x="34.3" y="58.7" transform="rotate(-30.3 34.3 58.7)" text-anchor="middle">O</text><text x="43.7" y="52.1" transform="rotate(-40.0 43.7 52.1)" text-anchor="middle">N</text><text x="53.6" y="41.8" transform="rotate(-52.1 53.6 41.8)" text-anchor="middle">S</text><text x="59.1" y="33.6" transform="rotate(-60.4 59.1 33.6)" text-anchor="middle">C</text><text x="63.9" y="23.2" transform="rotate(-70.1 63.9 23.2)" text-anchor="middle">H</text><text x="67.0" y="11.8" transform="rotate(-80.0 67.0 11.8)" text-anchor="middle">O</text><text x="68.0" y="-0.0" transform="rotate(-90.0 68.0 -0.0)" text-anchor="middle">O</text><text x="67.1" y="-11.0" transform="rotate(-99.3 67.1 -11.0)" text-anchor="middle">L</text></g><text x="-54.8" y="-23" font-size="16" text-anchor="middle">★</text><text x="54.2" y="-24" font-size="16" text-anchor="middle">★</text></g>
<text x="107.7" y="49" font-size="102" letter-spacing="14.4" font-weight="bold" fill="#f5f5f5" stroke="#f5f5f5" stroke-width="2.5" stroke-linejoin="round">志公教育</text>
<text x="324" y="-32" font-size="26" text-anchor="middle" fill="#f3f3f3">®</text>
<path d="M-80 98H550" stroke="#f3f3f3" stroke-width="2"/>
<text x="-76" y="168" font-size="50" letter-spacing="31.3" fill="#f0f0f0">专注广西公考辅导</text></g>
<g transform="translate(1639 2120) rotate(-22.3)"><circle r="73" fill="none" stroke="#fce9e9" stroke-width="3.5"/>
<circle r="48" fill="#fef3f2"/>
<circle r="52" fill="none" stroke="#fce9e9" stroke-width="1.6"/>
<circle r="48.5" fill="none" stroke="#fce9e9" stroke-width="1.2"/>
<text x="0" y="28" font-size="80" font-weight="bold" text-anchor="middle" fill="#fffafa">志</text>
<g fill="#fce8e7"><text x="-36.2" y="-44.0" transform="rotate(320.6 -36.2 -44.0)" font-size="19" font-weight="bold" text-anchor="middle">志</text><text x="-13.0" y="-55.5" transform="rotate(346.9 -13.0 -55.5)" font-size="19" font-weight="bold" text-anchor="middle">公</text><text x="13.0" y="-55.5" transform="rotate(373.1 13.0 -55.5)" font-size="19" font-weight="bold" text-anchor="middle">教</text><text x="36.2" y="-44.0" transform="rotate(399.4 36.2 -44.0)" font-size="19" font-weight="bold" text-anchor="middle">育</text><g font-family="Liberation Serif, serif" font-size="14" font-weight="bold"><text x="-67.4" y="-8.7" transform="rotate(97.4 -67.4 -8.7)" text-anchor="middle">Z</text><text x="-68.0" y="2.3" transform="rotate(88.0 -68.0 2.3)" text-anchor="middle">H</text><text x="-67.0" y="11.4" transform="rotate(80.3 -67.0 11.4)" text-anchor="middle">I</text><text x="-64.9" y="20.3" transform="rotate(72.7 -64.9 20.3)" text-anchor="middle">G</text><text x="-60.4" y="31.2" transform="rotate(62.7 -60.4 31.2)" text-anchor="middle">O</text><text x="-54.3" y="40.9" transform="rotate(53.0 -54.3 40.9)" text-anchor="middle">N</text><text x="-46.7" y="49.4" transform="rotate(43.4 -46.7 49.4)" text-anchor="middle">G</text><text x="-34.3" y="58.7" transform="rotate(30.3 -34.3 58.7)" text-anchor="middle">E</text><text x="-24.7" y="63.3" transform="rotate(21.3 -24.7 63.3)" text-anchor="middle">D</text><text x="-14.1" y="66.5" transform="rotate(12.0 -14.1 66.5)" text-anchor="middle">U</text><text x="-3.2" y="67.9" transform="rotate(2.7 -3.2 67.9)" text-anchor="middle">C</text><text x="7.8" y="67.5" transform="rotate(-6.6 7.8 67.5)" text-anchor="middle">A</text><text x="18.3" y="65.5" transform="rotate(-15.6 18.3 65.5)" text-anchor="middle">T</text><text x="26.2" y="62.8" transform="rotate(-22.6 26.2 62.8)" text-anchor="middle">I</text><text x="34.3" y="58.7" transform="rotate(-30.3 34.3 58.7)" text-anchor="middle">O</text><text x="43.7" y="52.1" transform="rotate(-40.0 43.7 52.1)" text-anchor="middle">N</text><text x="53.6" y="41.8" transform="rotate(-52.1 53.6 41.8)" text-anchor="middle">S</text><text x="59.1" y="33.6" transform="rotate(-60.4 59.1 33.6)" text-anchor="middle">C</text><text x="63.9" y="23.2" transform="rotate(-70.1 63.9 23.2)" text-anchor="middle">H</text><text x="67.0" y="11.8" transform="rotate(-80.0 67.0 11.8)" text-anchor="middle">O</text><text x="68.0" y="-0.0" transform="rotate(-90.0 68.0 -0.0)" text-anchor="middle">O</text><text x="67.1" y="-11.0" transform="rotate(-99.3 67.1 -11.0)" text-anchor="middle">L</text></g><text x="-54.8" y="-23" font-size="16" text-anchor="middle">★</text><text x="54.2" y="-24" font-size="16" text-anchor="middle">★</text></g>
<text x="107.7" y="49" font-size="102" letter-spacing="14.4" font-weight="bold" fill="#f5f5f5" stroke="#f5f5f5" stroke-width="2.5" stroke-linejoin="round">志公教育</text>
<text x="324" y="-32" font-size="26" text-anchor="middle" fill="#f3f3f3">®</text>
<path d="M-80 98H550" stroke="#f3f3f3" stroke-width="2"/>
<text x="-76" y="168" font-size="50" letter-spacing="31.3" fill="#f0f0f0">专注广西公考辅导</text></g>
<g transform="translate(3369 223) rotate(-22.3)"><circle r="73" fill="none" stroke="#fce9e9" stroke-width="3.5"/>
<circle r="48" fill="#fef3f2"/>
<circle r="52" fill="none" stroke="#fce9e9" stroke-width="1.6"/>
<circle r="48.5" fill="none" stroke="#fce9e9" stroke-width="1.2"/>
<text x="0" y="28" font-size="80" font-weight="bold" text-anchor="middle" fill="#fffafa">志</text>
<g fill="#fce8e7"><text x="-36.2" y="-44.0" transform="rotate(320.6 -36.2 -44.0)" font-size="19" font-weight="bold" text-anchor="middle">志</text><text x="-13.0" y="-55.5" transform="rotate(346.9 -13.0 -55.5)" font-size="19" font-weight="bold" text-anchor="middle">公</text><text x="13.0" y="-55.5" transform="rotate(373.1 13.0 -55.5)" font-size="19" font-weight="bold" text-anchor="middle">教</text><text x="36.2" y="-44.0" transform="rotate(399.4 36.2 -44.0)" font-size="19" font-weight="bold" text-anchor="middle">育</text><g font-family="Liberation Serif, serif" font-size="14" font-weight="bold"><text x="-67.4" y="-8.7" transform="rotate(97.4 -67.4 -8.7)" text-anchor="middle">Z</text><text x="-68.0" y="2.3" transform="rotate(88.0 -68.0 2.3)" text-anchor="middle">H</text><text x="-67.0" y="11.4" transform="rotate(80.3 -67.0 11.4)" text-anchor="middle">I</text><text x="-64.9" y="20.3" transform="rotate(72.7 -64.9 20.3)" text-anchor="middle">G</text><text x="-60.4" y="31.2" transform="rotate(62.7 -60.4 31.2)" text-anchor="middle">O</text><text x="-54.3" y="40.9" transform="rotate(53.0 -54.3 40.9)" text-anchor="middle">N</text><text x="-46.7" y="49.4" transform="rotate(43.4 -46.7 49.4)" text-anchor="middle">G</text><text x="-34.3" y="58.7" transform="rotate(30.3 -34.3 58.7)" text-anchor="middle">E</text><text x="-24.7" y="63.3" transform="rotate(21.3 -24.7 63.3)" text-anchor="middle">D</text><text x="-14.1" y="66.5" transform="rotate(12.0 -14.1 66.5)" text-anchor="middle">U</text><text x="-3.2" y="67.9" transform="rotate(2.7 -3.2 67.9)" text-anchor="middle">C</text><text x="7.8" y="67.5" transform="rotate(-6.6 7.8 67.5)" text-anchor="middle">A</text><text x="18.3" y="65.5" transform="rotate(-15.6 18.3 65.5)" text-anchor="middle">T</text><text x="26.2" y="62.8" transform="rotate(-22.6 26.2 62.8)" text-anchor="middle">I</text><text x="34.3" y="58.7" transform="rotate(-30.3 34.3 58.7)" text-anchor="middle">O</text><text x="43.7" y="52.1" transform="rotate(-40.0 43.7 52.1)" text-anchor="middle">N</text><text x="53.6" y="41.8" transform="rotate(-52.1 53.6 41.8)" text-anchor="middle">S</text><text x="59.1" y="33.6" transform="rotate(-60.4 59.1 33.6)" text-anchor="middle">C</text><text x="63.9" y="23.2" transform="rotate(-70.1 63.9 23.2)" text-anchor="middle">H</text><text x="67.0" y="11.8" transform="rotate(-80.0 67.0 11.8)" text-anchor="middle">O</text><text x="68.0" y="-0.0" transform="rotate(-90.0 68.0 -0.0)" text-anchor="middle">O</text><text x="67.1" y="-11.0" transform="rotate(-99.3 67.1 -11.0)" text-anchor="middle">L</text></g><text x="-54.8" y="-23" font-size="16" text-anchor="middle">★</text><text x="54.2" y="-24" font-size="16" text-anchor="middle">★</text></g>
<text x="107.7" y="49" font-size="102" letter-spacing="14.4" font-weight="bold" fill="#f5f5f5" stroke="#f5f5f5" stroke-width="2.5" stroke-linejoin="round">志公教育</text>
<text x="324" y="-32" font-size="26" text-anchor="middle" fill="#f3f3f3">®</text>
<path d="M-80 98H550" stroke="#f3f3f3" stroke-width="2"/>
<text x="-76" y="168" font-size="50" letter-spacing="31.3" fill="#f0f0f0">专注广西公考辅导</text></g>
<g transform="translate(3369 820) rotate(-22.3)"><circle r="73" fill="none" stroke="#fce9e9" stroke-width="3.5"/>
<circle r="48" fill="#fef3f2"/>
<circle r="52" fill="none" stroke="#fce9e9" stroke-width="1.6"/>
<circle r="48.5" fill="none" stroke="#fce9e9" stroke-width="1.2"/>
<text x="0" y="28" font-size="80" font-weight="bold" text-anchor="middle" fill="#fffafa">志</text>
<g fill="#fce8e7"><text x="-36.2" y="-44.0" transform="rotate(320.6 -36.2 -44.0)" font-size="19" font-weight="bold" text-anchor="middle">志</text><text x="-13.0" y="-55.5" transform="rotate(346.9 -13.0 -55.5)" font-size="19" font-weight="bold" text-anchor="middle">公</text><text x="13.0" y="-55.5" transform="rotate(373.1 13.0 -55.5)" font-size="19" font-weight="bold" text-anchor="middle">教</text><text x="36.2" y="-44.0" transform="rotate(399.4 36.2 -44.0)" font-size="19" font-weight="bold" text-anchor="middle">育</text><g font-family="Liberation Serif, serif" font-size="14" font-weight="bold"><text x="-67.4" y="-8.7" transform="rotate(97.4 -67.4 -8.7)" text-anchor="middle">Z</text><text x="-68.0" y="2.3" transform="rotate(88.0 -68.0 2.3)" text-anchor="middle">H</text><text x="-67.0" y="11.4" transform="rotate(80.3 -67.0 11.4)" text-anchor="middle">I</text><text x="-64.9" y="20.3" transform="rotate(72.7 -64.9 20.3)" text-anchor="middle">G</text><text x="-60.4" y="31.2" transform="rotate(62.7 -60.4 31.2)" text-anchor="middle">O</text><text x="-54.3" y="40.9" transform="rotate(53.0 -54.3 40.9)" text-anchor="middle">N</text><text x="-46.7" y="49.4" transform="rotate(43.4 -46.7 49.4)" text-anchor="middle">G</text><text x="-34.3" y="58.7" transform="rotate(30.3 -34.3 58.7)" text-anchor="middle">E</text><text x="-24.7" y="63.3" transform="rotate(21.3 -24.7 63.3)" text-anchor="middle">D</text><text x="-14.1" y="66.5" transform="rotate(12.0 -14.1 66.5)" text-anchor="middle">U</text><text x="-3.2" y="67.9" transform="rotate(2.7 -3.2 67.9)" text-anchor="middle">C</text><text x="7.8" y="67.5" transform="rotate(-6.6 7.8 67.5)" text-anchor="middle">A</text><text x="18.3" y="65.5" transform="rotate(-15.6 18.3 65.5)" text-anchor="middle">T</text><text x="26.2" y="62.8" transform="rotate(-22.6 26.2 62.8)" text-anchor="middle">I</text><text x="34.3" y="58.7" transform="rotate(-30.3 34.3 58.7)" text-anchor="middle">O</text><text x="43.7" y="52.1" transform="rotate(-40.0 43.7 52.1)" text-anchor="middle">N</text><text x="53.6" y="41.8" transform="rotate(-52.1 53.6 41.8)" text-anchor="middle">S</text><text x="59.1" y="33.6" transform="rotate(-60.4 59.1 33.6)" text-anchor="middle">C</text><text x="63.9" y="23.2" transform="rotate(-70.1 63.9 23.2)" text-anchor="middle">H</text><text x="67.0" y="11.8" transform="rotate(-80.0 67.0 11.8)" text-anchor="middle">O</text><text x="68.0" y="-0.0" transform="rotate(-90.0 68.0 -0.0)" text-anchor="middle">O</text><text x="67.1" y="-11.0" transform="rotate(-99.3 67.1 -11.0)" text-anchor="middle">L</text></g><text x="-54.8" y="-23" font-size="16" text-anchor="middle">★</text><text x="54.2" y="-24" font-size="16" text-anchor="middle">★</text></g>
<text x="107.7" y="49" font-size="102" letter-spacing="14.4" font-weight="bold" fill="#f5f5f5" stroke="#f5f5f5" stroke-width="2.5" stroke-linejoin="round">志公教育</text>
<text x="324" y="-32" font-size="26" text-anchor="middle" fill="#f3f3f3">®</text>
<path d="M-80 98H550" stroke="#f3f3f3" stroke-width="2"/>
<text x="-76" y="168" font-size="50" letter-spacing="31.3" fill="#f0f0f0">专注广西公考辅导</text></g>
<g transform="translate(3369 1484) rotate(-22.3)"><circle r="73" fill="none" stroke="#fce9e9" stroke-width="3.5"/>
<circle r="48" fill="#fef3f2"/>
<circle r="52" fill="none" stroke="#fce9e9" stroke-width="1.6"/>
<circle r="48.5" fill="none" stroke="#fce9e9" stroke-width="1.2"/>
<text x="0" y="28" font-size="80" font-weight="bold" text-anchor="middle" fill="#fffafa">志</text>
<g fill="#fce8e7"><text x="-36.2" y="-44.0" transform="rotate(320.6 -36.2 -44.0)" font-size="19" font-weight="bold" text-anchor="middle">志</text><text x="-13.0" y="-55.5" transform="rotate(346.9 -13.0 -55.5)" font-size="19" font-weight="bold" text-anchor="middle">公</text><text x="13.0" y="-55.5" transform="rotate(373.1 13.0 -55.5)" font-size="19" font-weight="bold" text-anchor="middle">教</text><text x="36.2" y="-44.0" transform="rotate(399.4 36.2 -44.0)" font-size="19" font-weight="bold" text-anchor="middle">育</text><g font-family="Liberation Serif, serif" font-size="14" font-weight="bold"><text x="-67.4" y="-8.7" transform="rotate(97.4 -67.4 -8.7)" text-anchor="middle">Z</text><text x="-68.0" y="2.3" transform="rotate(88.0 -68.0 2.3)" text-anchor="middle">H</text><text x="-67.0" y="11.4" transform="rotate(80.3 -67.0 11.4)" text-anchor="middle">I</text><text x="-64.9" y="20.3" transform="rotate(72.7 -64.9 20.3)" text-anchor="middle">G</text><text x="-60.4" y="31.2" transform="rotate(62.7 -60.4 31.2)" text-anchor="middle">O</text><text x="-54.3" y="40.9" transform="rotate(53.0 -54.3 40.9)" text-anchor="middle">N</text><text x="-46.7" y="49.4" transform="rotate(43.4 -46.7 49.4)" text-anchor="middle">G</text><text x="-34.3" y="58.7" transform="rotate(30.3 -34.3 58.7)" text-anchor="middle">E</text><text x="-24.7" y="63.3" transform="rotate(21.3 -24.7 63.3)" text-anchor="middle">D</text><text x="-14.1" y="66.5" transform="rotate(12.0 -14.1 66.5)" text-anchor="middle">U</text><text x="-3.2" y="67.9" transform="rotate(2.7 -3.2 67.9)" text-anchor="middle">C</text><text x="7.8" y="67.5" transform="rotate(-6.6 7.8 67.5)" text-anchor="middle">A</text><text x="18.3" y="65.5" transform="rotate(-15.6 18.3 65.5)" text-anchor="middle">T</text><text x="26.2" y="62.8" transform="rotate(-22.6 26.2 62.8)" text-anchor="middle">I</text><text x="34.3" y="58.7" transform="rotate(-30.3 34.3 58.7)" text-anchor="middle">O</text><text x="43.7" y="52.1" transform="rotate(-40.0 43.7 52.1)" text-anchor="middle">N</text><text x="53.6" y="41.8" transform="rotate(-52.1 53.6 41.8)" text-anchor="middle">S</text><text x="59.1" y="33.6" transform="rotate(-60.4 59.1 33.6)" text-anchor="middle">C</text><text x="63.9" y="23.2" transform="rotate(-70.1 63.9 23.2)" text-anchor="middle">H</text><text x="67.0" y="11.8" transform="rotate(-80.0 67.0 11.8)" text-anchor="middle">O</text><text x="68.0" y="-0.0" transform="rotate(-90.0 68.0 -0.0)" text-anchor="middle">O</text><text x="67.1" y="-11.0" transform="rotate(-99.3 67.1 -11.0)" text-anchor="middle">L</text></g><text x="-54.8" y="-23" font-size="16" text-anchor="middle">★</text><text x="54.2" y="-24" font-size="16" text-anchor="middle">★</text></g>
<text x="107.7" y="49" font-size="102" letter-spacing="14.4" font-weight="bold" fill="#f5f5f5" stroke="#f5f5f5" stroke-width="2.5" stroke-linejoin="round">志公教育</text>
<text x="324" y="-32" font-size="26" text-anchor="middle" fill="#f3f3f3">®</text>
<path d="M-80 98H550" stroke="#f3f3f3" stroke-width="2"/>
<text x="-76" y="168" font-size="50" letter-spacing="31.3" fill="#f0f0f0">专注广西公考辅导</text></g>
<g transform="translate(3369 2120) rotate(-22.3)"><circle r="73" fill="none" stroke="#fce9e9" stroke-width="3.5"/>
<circle r="48" fill="#fef3f2"/>
<circle r="52" fill="none" stroke="#fce9e9" stroke-width="1.6"/>
<circle r="48.5" fill="none" stroke="#fce9e9" stroke-width="1.2"/>
<text x="0" y="28" font-size="80" font-weight="bold" text-anchor="middle" fill="#fffafa">志</text>
<g fill="#fce8e7"><text x="-36.2" y="-44.0" transform="rotate(320.6 -36.2 -44.0)" font-size="19" font-weight="bold" text-anchor="middle">志</text><text x="-13.0" y="-55.5" transform="rotate(346.9 -13.0 -55.5)" font-size="19" font-weight="bold" text-anchor="middle">公</text><text x="13.0" y="-55.5" transform="rotate(373.1 13.0 -55.5)" font-size="19" font-weight="bold" text-anchor="middle">教</text><text x="36.2" y="-44.0" transform="rotate(399.4 36.2 -44.0)" font-size="19" font-weight="bold" text-anchor="middle">育</text><g font-family="Liberation Serif, serif" font-size="14" font-weight="bold"><text x="-67.4" y="-8.7" transform="rotate(97.4 -67.4 -8.7)" text-anchor="middle">Z</text><text x="-68.0" y="2.3" transform="rotate(88.0 -68.0 2.3)" text-anchor="middle">H</text><text x="-67.0" y="11.4" transform="rotate(80.3 -67.0 11.4)" text-anchor="middle">I</text><text x="-64.9" y="20.3" transform="rotate(72.7 -64.9 20.3)" text-anchor="middle">G</text><text x="-60.4" y="31.2" transform="rotate(62.7 -60.4 31.2)" text-anchor="middle">O</text><text x="-54.3" y="40.9" transform="rotate(53.0 -54.3 40.9)" text-anchor="middle">N</text><text x="-46.7" y="49.4" transform="rotate(43.4 -46.7 49.4)" text-anchor="middle">G</text><text x="-34.3" y="58.7" transform="rotate(30.3 -34.3 58.7)" text-anchor="middle">E</text><text x="-24.7" y="63.3" transform="rotate(21.3 -24.7 63.3)" text-anchor="middle">D</text><text x="-14.1" y="66.5" transform="rotate(12.0 -14.1 66.5)" text-anchor="middle">U</text><text x="-3.2" y="67.9" transform="rotate(2.7 -3.2 67.9)" text-anchor="middle">C</text><text x="7.8" y="67.5" transform="rotate(-6.6 7.8 67.5)" text-anchor="middle">A</text><text x="18.3" y="65.5" transform="rotate(-15.6 18.3 65.5)" text-anchor="middle">T</text><text x="26.2" y="62.8" transform="rotate(-22.6 26.2 62.8)" text-anchor="middle">I</text><text x="34.3" y="58.7" transform="rotate(-30.3 34.3 58.7)" text-anchor="middle">O</text><text x="43.7" y="52.1" transform="rotate(-40.0 43.7 52.1)" text-anchor="middle">N</text><text x="53.6" y="41.8" transform="rotate(-52.1 53.6 41.8)" text-anchor="middle">S</text><text x="59.1" y="33.6" transform="rotate(-60.4 59.1 33.6)" text-anchor="middle">C</text><text x="63.9" y="23.2" transform="rotate(-70.1 63.9 23.2)" text-anchor="middle">H</text><text x="67.0" y="11.8" transform="rotate(-80.0 67.0 11.8)" text-anchor="middle">O</text><text x="68.0" y="-0.0" transform="rotate(-90.0 68.0 -0.0)" text-anchor="middle">O</text><text x="67.1" y="-11.0" transform="rotate(-99.3 67.1 -11.0)" text-anchor="middle">L</text></g><text x="-54.8" y="-23" font-size="16" text-anchor="middle">★</text><text x="54.2" y="-24" font-size="16" text-anchor="middle">★</text></g>
<text x="107.7" y="49" font-size="102" letter-spacing="14.4" font-weight="bold" fill="#f5f5f5" stroke="#f5f5f5" stroke-width="2.5" stroke-linejoin="round">志公教育</text>
<text x="324" y="-32" font-size="26" text-anchor="middle" fill="#f3f3f3">®</text>
<path d="M-80 98H550" stroke="#f3f3f3" stroke-width="2"/>
<text x="-76" y="168" font-size="50" letter-spacing="31.3" fill="#f0f0f0">专注广西公考辅导</text></g>
<g transform="translate(792 -70) rotate(-22.3)"><circle r="73" fill="none" stroke="#fce9e9" stroke-width="3.5"/>
<circle r="48" fill="#fef3f2"/>
<circle r="52" fill="none" stroke="#fce9e9" stroke-width="1.6"/>
<circle r="48.5" fill="none" stroke="#fce9e9" stroke-width="1.2"/>
<text x="0" y="28" font-size="80" font-weight="bold" text-anchor="middle" fill="#fffafa">志</text>
<g fill="#fce8e7"><text x="-36.2" y="-44.0" transform="rotate(320.6 -36.2 -44.0)" font-size="19" font-weight="bold" text-anchor="middle">志</text><text x="-13.0" y="-55.5" transform="rotate(346.9 -13.0 -55.5)" font-size="19" font-weight="bold" text-anchor="middle">公</text><text x="13.0" y="-55.5" transform="rotate(373.1 13.0 -55.5)" font-size="19" font-weight="bold" text-anchor="middle">教</text><text x="36.2" y="-44.0" transform="rotate(399.4 36.2 -44.0)" font-size="19" font-weight="bold" text-anchor="middle">育</text><g font-family="Liberation Serif, serif" font-size="14" font-weight="bold"><text x="-67.4" y="-8.7" transform="rotate(97.4 -67.4 -8.7)" text-anchor="middle">Z</text><text x="-68.0" y="2.3" transform="rotate(88.0 -68.0 2.3)" text-anchor="middle">H</text><text x="-67.0" y="11.4" transform="rotate(80.3 -67.0 11.4)" text-anchor="middle">I</text><text x="-64.9" y="20.3" transform="rotate(72.7 -64.9 20.3)" text-anchor="middle">G</text><text x="-60.4" y="31.2" transform="rotate(62.7 -60.4 31.2)" text-anchor="middle">O</text><text x="-54.3" y="40.9" transform="rotate(53.0 -54.3 40.9)" text-anchor="middle">N</text><text x="-46.7" y="49.4" transform="rotate(43.4 -46.7 49.4)" text-anchor="middle">G</text><text x="-34.3" y="58.7" transform="rotate(30.3 -34.3 58.7)" text-anchor="middle">E</text><text x="-24.7" y="63.3" transform="rotate(21.3 -24.7 63.3)" text-anchor="middle">D</text><text x="-14.1" y="66.5" transform="rotate(12.0 -14.1 66.5)" text-anchor="middle">U</text><text x="-3.2" y="67.9" transform="rotate(2.7 -3.2 67.9)" text-anchor="middle">C</text><text x="7.8" y="67.5" transform="rotate(-6.6 7.8 67.5)" text-anchor="middle">A</text><text x="18.3" y="65.5" transform="rotate(-15.6 18.3 65.5)" text-anchor="middle">T</text><text x="26.2" y="62.8" transform="rotate(-22.6 26.2 62.8)" text-anchor="middle">I</text><text x="34.3" y="58.7" transform="rotate(-30.3 34.3 58.7)" text-anchor="middle">O</text><text x="43.7" y="52.1" transform="rotate(-40.0 43.7 52.1)" text-anchor="middle">N</text><text x="53.6" y="41.8" transform="rotate(-52.1 53.6 41.8)" text-anchor="middle">S</text><text x="59.1" y="33.6" transform="rotate(-60.4 59.1 33.6)" text-anchor="middle">C</text><text x="63.9" y="23.2" transform="rotate(-70.1 63.9 23.2)" text-anchor="middle">H</text><text x="67.0" y="11.8" transform="rotate(-80.0 67.0 11.8)" text-anchor="middle">O</text><text x="68.0" y="-0.0" transform="rotate(-90.0 68.0 -0.0)" text-anchor="middle">O</text><text x="67.1" y="-11.0" transform="rotate(-99.3 67.1 -11.0)" text-anchor="middle">L</text></g><text x="-54.8" y="-23" font-size="16" text-anchor="middle">★</text><text x="54.2" y="-24" font-size="16" text-anchor="middle">★</text></g>
<text x="107.7" y="49" font-size="102" letter-spacing="14.4" font-weight="bold" fill="#f5f5f5" stroke="#f5f5f5" stroke-width="2.5" stroke-linejoin="round">志公教育</text>
<text x="324" y="-32" font-size="26" text-anchor="middle" fill="#f3f3f3">®</text>
<path d="M-80 98H550" stroke="#f3f3f3" stroke-width="2"/>
<text x="-76" y="168" font-size="50" letter-spacing="31.3" fill="#f0f0f0">专注广西公考辅导</text></g>
<g transform="translate(792 524) rotate(-22.3)"><circle r="73" fill="none" stroke="#fce9e9" stroke-width="3.5"/>
<circle r="48" fill="#fef3f2"/>
<circle r="52" fill="none" stroke="#fce9e9" stroke-width="1.6"/>
<circle r="48.5" fill="none" stroke="#fce9e9" stroke-width="1.2"/>
<text x="0" y="28" font-size="80" font-weight="bold" text-anchor="middle" fill="#fffafa">志</text>
<g fill="#fce8e7"><text x="-36.2" y="-44.0" transform="rotate(320.6 -36.2 -44.0)" font-size="19" font-weight="bold" text-anchor="middle">志</text><text x="-13.0" y="-55.5" transform="rotate(346.9 -13.0 -55.5)" font-size="19" font-weight="bold" text-anchor="middle">公</text><text x="13.0" y="-55.5" transform="rotate(373.1 13.0 -55.5)" font-size="19" font-weight="bold" text-anchor="middle">教</text><text x="36.2" y="-44.0" transform="rotate(399.4 36.2 -44.0)" font-size="19" font-weight="bold" text-anchor="middle">育</text><g font-family="Liberation Serif, serif" font-size="14" font-weight="bold"><text x="-67.4" y="-8.7" transform="rotate(97.4 -67.4 -8.7)" text-anchor="middle">Z</text><text x="-68.0" y="2.3" transform="rotate(88.0 -68.0 2.3)" text-anchor="middle">H</text><text x="-67.0" y="11.4" transform="rotate(80.3 -67.0 11.4)" text-anchor="middle">I</text><text x="-64.9" y="20.3" transform="rotate(72.7 -64.9 20.3)" text-anchor="middle">G</text><text x="-60.4" y="31.2" transform="rotate(62.7 -60.4 31.2)" text-anchor="middle">O</text><text x="-54.3" y="40.9" transform="rotate(53.0 -54.3 40.9)" text-anchor="middle">N</text><text x="-46.7" y="49.4" transform="rotate(43.4 -46.7 49.4)" text-anchor="middle">G</text><text x="-34.3" y="58.7" transform="rotate(30.3 -34.3 58.7)" text-anchor="middle">E</text><text x="-24.7" y="63.3" transform="rotate(21.3 -24.7 63.3)" text-anchor="middle">D</text><text x="-14.1" y="66.5" transform="rotate(12.0 -14.1 66.5)" text-anchor="middle">U</text><text x="-3.2" y="67.9" transform="rotate(2.7 -3.2 67.9)" text-anchor="middle">C</text><text x="7.8" y="67.5" transform="rotate(-6.6 7.8 67.5)" text-anchor="middle">A</text><text x="18.3" y="65.5" transform="rotate(-15.6 18.3 65.5)" text-anchor="middle">T</text><text x="26.2" y="62.8" transform="rotate(-22.6 26.2 62.8)" text-anchor="middle">I</text><text x="34.3" y="58.7" transform="rotate(-30.3 34.3 58.7)" text-anchor="middle">O</text><text x="43.7" y="52.1" transform="rotate(-40.0 43.7 52.1)" text-anchor="middle">N</text><text x="53.6" y="41.8" transform="rotate(-52.1 53.6 41.8)" text-anchor="middle">S</text><text x="59.1" y="33.6" transform="rotate(-60.4 59.1 33.6)" text-anchor="middle">C</text><text x="63.9" y="23.2" transform="rotate(-70.1 63.9 23.2)" text-anchor="middle">H</text><text x="67.0" y="11.8" transform="rotate(-80.0 67.0 11.8)" text-anchor="middle">O</text><text x="68.0" y="-0.0" transform="rotate(-90.0 68.0 -0.0)" text-anchor="middle">O</text><text x="67.1" y="-11.0" transform="rotate(-99.3 67.1 -11.0)" text-anchor="middle">L</text></g><text x="-54.8" y="-23" font-size="16" text-anchor="middle">★</text><text x="54.2" y="-24" font-size="16" text-anchor="middle">★</text></g>
<text x="107.7" y="49" font-size="102" letter-spacing="14.4" font-weight="bold" fill="#f5f5f5" stroke="#f5f5f5" stroke-width="2.5" stroke-linejoin="round">志公教育</text>
<text x="324" y="-32" font-size="26" text-anchor="middle" fill="#f3f3f3">®</text>
<path d="M-80 98H550" stroke="#f3f3f3" stroke-width="2"/>
<text x="-76" y="168" font-size="50" letter-spacing="31.3" fill="#f0f0f0">专注广西公考辅导</text></g>
<g transform="translate(792 1189) rotate(-22.3)"><circle r="73" fill="none" stroke="#fce9e9" stroke-width="3.5"/>
<circle r="48" fill="#fef3f2"/>
<circle r="52" fill="none" stroke="#fce9e9" stroke-width="1.6"/>
<circle r="48.5" fill="none" stroke="#fce9e9" stroke-width="1.2"/>
<text x="0" y="28" font-size="80" font-weight="bold" text-anchor="middle" fill="#fffafa">志</text>
<g fill="#fce8e7"><text x="-36.2" y="-44.0" transform="rotate(320.6 -36.2 -44.0)" font-size="19" font-weight="bold" text-anchor="middle">志</text><text x="-13.0" y="-55.5" transform="rotate(346.9 -13.0 -55.5)" font-size="19" font-weight="bold" text-anchor="middle">公</text><text x="13.0" y="-55.5" transform="rotate(373.1 13.0 -55.5)" font-size="19" font-weight="bold" text-anchor="middle">教</text><text x="36.2" y="-44.0" transform="rotate(399.4 36.2 -44.0)" font-size="19" font-weight="bold" text-anchor="middle">育</text><g font-family="Liberation Serif, serif" font-size="14" font-weight="bold"><text x="-67.4" y="-8.7" transform="rotate(97.4 -67.4 -8.7)" text-anchor="middle">Z</text><text x="-68.0" y="2.3" transform="rotate(88.0 -68.0 2.3)" text-anchor="middle">H</text><text x="-67.0" y="11.4" transform="rotate(80.3 -67.0 11.4)" text-anchor="middle">I</text><text x="-64.9" y="20.3" transform="rotate(72.7 -64.9 20.3)" text-anchor="middle">G</text><text x="-60.4" y="31.2" transform="rotate(62.7 -60.4 31.2)" text-anchor="middle">O</text><text x="-54.3" y="40.9" transform="rotate(53.0 -54.3 40.9)" text-anchor="middle">N</text><text x="-46.7" y="49.4" transform="rotate(43.4 -46.7 49.4)" text-anchor="middle">G</text><text x="-34.3" y="58.7" transform="rotate(30.3 -34.3 58.7)" text-anchor="middle">E</text><text x="-24.7" y="63.3" transform="rotate(21.3 -24.7 63.3)" text-anchor="middle">D</text><text x="-14.1" y="66.5" transform="rotate(12.0 -14.1 66.5)" text-anchor="middle">U</text><text x="-3.2" y="67.9" transform="rotate(2.7 -3.2 67.9)" text-anchor="middle">C</text><text x="7.8" y="67.5" transform="rotate(-6.6 7.8 67.5)" text-anchor="middle">A</text><text x="18.3" y="65.5" transform="rotate(-15.6 18.3 65.5)" text-anchor="middle">T</text><text x="26.2" y="62.8" transform="rotate(-22.6 26.2 62.8)" text-anchor="middle">I</text><text x="34.3" y="58.7" transform="rotate(-30.3 34.3 58.7)" text-anchor="middle">O</text><text x="43.7" y="52.1" transform="rotate(-40.0 43.7 52.1)" text-anchor="middle">N</text><text x="53.6" y="41.8" transform="rotate(-52.1 53.6 41.8)" text-anchor="middle">S</text><text x="59.1" y="33.6" transform="rotate(-60.4 59.1 33.6)" text-anchor="middle">C</text><text x="63.9" y="23.2" transform="rotate(-70.1 63.9 23.2)" text-anchor="middle">H</text><text x="67.0" y="11.8" transform="rotate(-80.0 67.0 11.8)" text-anchor="middle">O</text><text x="68.0" y="-0.0" transform="rotate(-90.0 68.0 -0.0)" text-anchor="middle">O</text><text x="67.1" y="-11.0" transform="rotate(-99.3 67.1 -11.0)" text-anchor="middle">L</text></g><text x="-54.8" y="-23" font-size="16" text-anchor="middle">★</text><text x="54.2" y="-24" font-size="16" text-anchor="middle">★</text></g>
<text x="107.7" y="49" font-size="102" letter-spacing="14.4" font-weight="bold" fill="#f5f5f5" stroke="#f5f5f5" stroke-width="2.5" stroke-linejoin="round">志公教育</text>
<text x="324" y="-32" font-size="26" text-anchor="middle" fill="#f3f3f3">®</text>
<path d="M-80 98H550" stroke="#f3f3f3" stroke-width="2"/>
<text x="-76" y="168" font-size="50" letter-spacing="31.3" fill="#f0f0f0">专注广西公考辅导</text></g>
<g transform="translate(792 1835) rotate(-22.3)"><circle r="73" fill="none" stroke="#fce9e9" stroke-width="3.5"/>
<circle r="48" fill="#fef3f2"/>
<circle r="52" fill="none" stroke="#fce9e9" stroke-width="1.6"/>
<circle r="48.5" fill="none" stroke="#fce9e9" stroke-width="1.2"/>
<text x="0" y="28" font-size="80" font-weight="bold" text-anchor="middle" fill="#fffafa">志</text>
<g fill="#fce8e7"><text x="-36.2" y="-44.0" transform="rotate(320.6 -36.2 -44.0)" font-size="19" font-weight="bold" text-anchor="middle">志</text><text x="-13.0" y="-55.5" transform="rotate(346.9 -13.0 -55.5)" font-size="19" font-weight="bold" text-anchor="middle">公</text><text x="13.0" y="-55.5" transform="rotate(373.1 13.0 -55.5)" font-size="19" font-weight="bold" text-anchor="middle">教</text><text x="36.2" y="-44.0" transform="rotate(399.4 36.2 -44.0)" font-size="19" font-weight="bold" text-anchor="middle">育</text><g font-family="Liberation Serif, serif" font-size="14" font-weight="bold"><text x="-67.4" y="-8.7" transform="rotate(97.4 -67.4 -8.7)" text-anchor="middle">Z</text><text x="-68.0" y="2.3" transform="rotate(88.0 -68.0 2.3)" text-anchor="middle">H</text><text x="-67.0" y="11.4" transform="rotate(80.3 -67.0 11.4)" text-anchor="middle">I</text><text x="-64.9" y="20.3" transform="rotate(72.7 -64.9 20.3)" text-anchor="middle">G</text><text x="-60.4" y="31.2" transform="rotate(62.7 -60.4 31.2)" text-anchor="middle">O</text><text x="-54.3" y="40.9" transform="rotate(53.0 -54.3 40.9)" text-anchor="middle">N</text><text x="-46.7" y="49.4" transform="rotate(43.4 -46.7 49.4)" text-anchor="middle">G</text><text x="-34.3" y="58.7" transform="rotate(30.3 -34.3 58.7)" text-anchor="middle">E</text><text x="-24.7" y="63.3" transform="rotate(21.3 -24.7 63.3)" text-anchor="middle">D</text><text x="-14.1" y="66.5" transform="rotate(12.0 -14.1 66.5)" text-anchor="middle">U</text><text x="-3.2" y="67.9" transform="rotate(2.7 -3.2 67.9)" text-anchor="middle">C</text><text x="7.8" y="67.5" transform="rotate(-6.6 7.8 67.5)" text-anchor="middle">A</text><text x="18.3" y="65.5" transform="rotate(-15.6 18.3 65.5)" text-anchor="middle">T</text><text x="26.2" y="62.8" transform="rotate(-22.6 26.2 62.8)" text-anchor="middle">I</text><text x="34.3" y="58.7" transform="rotate(-30.3 34.3 58.7)" text-anchor="middle">O</text><text x="43.7" y="52.1" transform="rotate(-40.0 43.7 52.1)" text-anchor="middle">N</text><text x="53.6" y="41.8" transform="rotate(-52.1 53.6 41.8)" text-anchor="middle">S</text><text x="59.1" y="33.6" transform="rotate(-60.4 59.1 33.6)" text-anchor="middle">C</text><text x="63.9" y="23.2" transform="rotate(-70.1 63.9 23.2)" text-anchor="middle">H</text><text x="67.0" y="11.8" transform="rotate(-80.0 67.0 11.8)" text-anchor="middle">O</text><text x="68.0" y="-0.0" transform="rotate(-90.0 68.0 -0.0)" text-anchor="middle">O</text><text x="67.1" y="-11.0" transform="rotate(-99.3 67.1 -11.0)" text-anchor="middle">L</text></g><text x="-54.8" y="-23" font-size="16" text-anchor="middle">★</text><text x="54.2" y="-24" font-size="16" text-anchor="middle">★</text></g>
<text x="107.7" y="49" font-size="102" letter-spacing="14.4" font-weight="bold" fill="#f5f5f5" stroke="#f5f5f5" stroke-width="2.5" stroke-linejoin="round">志公教育</text>
<text x="324" y="-32" font-size="26" text-anchor="middle" fill="#f3f3f3">®</text>
<path d="M-80 98H550" stroke="#f3f3f3" stroke-width="2"/>
<text x="-76" y="168" font-size="50" letter-spacing="31.3" fill="#f0f0f0">专注广西公考辅导</text></g>
<g transform="translate(2356 -70) rotate(-22.3)"><circle r="73" fill="none" stroke="#fce9e9" stroke-width="3.5"/>
<circle r="48" fill="#fef3f2"/>
<circle r="52" fill="none" stroke="#fce9e9" stroke-width="1.6"/>
<circle r="48.5" fill="none" stroke="#fce9e9" stroke-width="1.2"/>
<text x="0" y="28" font-size="80" font-weight="bold" text-anchor="middle" fill="#fffafa">志</text>
<g fill="#fce8e7"><text x="-36.2" y="-44.0" transform="rotate(320.6 -36.2 -44.0)" font-size="19" font-weight="bold" text-anchor="middle">志</text><text x="-13.0" y="-55.5" transform="rotate(346.9 -13.0 -55.5)" font-size="19" font-weight="bold" text-anchor="middle">公</text><text x="13.0" y="-55.5" transform="rotate(373.1 13.0 -55.5)" font-size="19" font-weight="bold" text-anchor="middle">教</text><text x="36.2" y="-44.0" transform="rotate(399.4 36.2 -44.0)" font-size="19" font-weight="bold" text-anchor="middle">育</text><g font-family="Liberation Serif, serif" font-size="14" font-weight="bold"><text x="-67.4" y="-8.7" transform="rotate(97.4 -67.4 -8.7)" text-anchor="middle">Z</text><text x="-68.0" y="2.3" transform="rotate(88.0 -68.0 2.3)" text-anchor="middle">H</text><text x="-67.0" y="11.4" transform="rotate(80.3 -67.0 11.4)" text-anchor="middle">I</text><text x="-64.9" y="20.3" transform="rotate(72.7 -64.9 20.3)" text-anchor="middle">G</text><text x="-60.4" y="31.2" transform="rotate(62.7 -60.4 31.2)" text-anchor="middle">O</text><text x="-54.3" y="40.9" transform="rotate(53.0 -54.3 40.9)" text-anchor="middle">N</text><text x="-46.7" y="49.4" transform="rotate(43.4 -46.7 49.4)" text-anchor="middle">G</text><text x="-34.3" y="58.7" transform="rotate(30.3 -34.3 58.7)" text-anchor="middle">E</text><text x="-24.7" y="63.3" transform="rotate(21.3 -24.7 63.3)" text-anchor="middle">D</text><text x="-14.1" y="66.5" transform="rotate(12.0 -14.1 66.5)" text-anchor="middle">U</text><text x="-3.2" y="67.9" transform="rotate(2.7 -3.2 67.9)" text-anchor="middle">C</text><text x="7.8" y="67.5" transform="rotate(-6.6 7.8 67.5)" text-anchor="middle">A</text><text x="18.3" y="65.5" transform="rotate(-15.6 18.3 65.5)" text-anchor="middle">T</text><text x="26.2" y="62.8" transform="rotate(-22.6 26.2 62.8)" text-anchor="middle">I</text><text x="34.3" y="58.7" transform="rotate(-30.3 34.3 58.7)" text-anchor="middle">O</text><text x="43.7" y="52.1" transform="rotate(-40.0 43.7 52.1)" text-anchor="middle">N</text><text x="53.6" y="41.8" transform="rotate(-52.1 53.6 41.8)" text-anchor="middle">S</text><text x="59.1" y="33.6" transform="rotate(-60.4 59.1 33.6)" text-anchor="middle">C</text><text x="63.9" y="23.2" transform="rotate(-70.1 63.9 23.2)" text-anchor="middle">H</text><text x="67.0" y="11.8" transform="rotate(-80.0 67.0 11.8)" text-anchor="middle">O</text><text x="68.0" y="-0.0" transform="rotate(-90.0 68.0 -0.0)" text-anchor="middle">O</text><text x="67.1" y="-11.0" transform="rotate(-99.3 67.1 -11.0)" text-anchor="middle">L</text></g><text x="-54.8" y="-23" font-size="16" text-anchor="middle">★</text><text x="54.2" y="-24" font-size="16" text-anchor="middle">★</text></g>
<text x="107.7" y="49" font-size="102" letter-spacing="14.4" font-weight="bold" fill="#f5f5f5" stroke="#f5f5f5" stroke-width="2.5" stroke-linejoin="round">志公教育</text>
<text x="324" y="-32" font-size="26" text-anchor="middle" fill="#f3f3f3">®</text>
<path d="M-80 98H550" stroke="#f3f3f3" stroke-width="2"/>
<text x="-76" y="168" font-size="50" letter-spacing="31.3" fill="#f0f0f0">专注广西公考辅导</text></g>
<g transform="translate(2356 524) rotate(-22.3)"><circle r="73" fill="none" stroke="#fce9e9" stroke-width="3.5"/>
<circle r="48" fill="#fef3f2"/>
<circle r="52" fill="none" stroke="#fce9e9" stroke-width="1.6"/>
<circle r="48.5" fill="none" stroke="#fce9e9" stroke-width="1.2"/>
<text x="0" y="28" font-size="80" font-weight="bold" text-anchor="middle" fill="#fffafa">志</text>
<g fill="#fce8e7"><text x="-36.2" y="-44.0" transform="rotate(320.6 -36.2 -44.0)" font-size="19" font-weight="bold" text-anchor="middle">志</text><text x="-13.0" y="-55.5" transform="rotate(346.9 -13.0 -55.5)" font-size="19" font-weight="bold" text-anchor="middle">公</text><text x="13.0" y="-55.5" transform="rotate(373.1 13.0 -55.5)" font-size="19" font-weight="bold" text-anchor="middle">教</text><text x="36.2" y="-44.0" transform="rotate(399.4 36.2 -44.0)" font-size="19" font-weight="bold" text-anchor="middle">育</text><g font-family="Liberation Serif, serif" font-size="14" font-weight="bold"><text x="-67.4" y="-8.7" transform="rotate(97.4 -67.4 -8.7)" text-anchor="middle">Z</text><text x="-68.0" y="2.3" transform="rotate(88.0 -68.0 2.3)" text-anchor="middle">H</text><text x="-67.0" y="11.4" transform="rotate(80.3 -67.0 11.4)" text-anchor="middle">I</text><text x="-64.9" y="20.3" transform="rotate(72.7 -64.9 20.3)" text-anchor="middle">G</text><text x="-60.4" y="31.2" transform="rotate(62.7 -60.4 31.2)" text-anchor="middle">O</text><text x="-54.3" y="40.9" transform="rotate(53.0 -54.3 40.9)" text-anchor="middle">N</text><text x="-46.7" y="49.4" transform="rotate(43.4 -46.7 49.4)" text-anchor="middle">G</text><text x="-34.3" y="58.7" transform="rotate(30.3 -34.3 58.7)" text-anchor="middle">E</text><text x="-24.7" y="63.3" transform="rotate(21.3 -24.7 63.3)" text-anchor="middle">D</text><text x="-14.1" y="66.5" transform="rotate(12.0 -14.1 66.5)" text-anchor="middle">U</text><text x="-3.2" y="67.9" transform="rotate(2.7 -3.2 67.9)" text-anchor="middle">C</text><text x="7.8" y="67.5" transform="rotate(-6.6 7.8 67.5)" text-anchor="middle">A</text><text x="18.3" y="65.5" transform="rotate(-15.6 18.3 65.5)" text-anchor="middle">T</text><text x="26.2" y="62.8" transform="rotate(-22.6 26.2 62.8)" text-anchor="middle">I</text><text x="34.3" y="58.7" transform="rotate(-30.3 34.3 58.7)" text-anchor="middle">O</text><text x="43.7" y="52.1" transform="rotate(-40.0 43.7 52.1)" text-anchor="middle">N</text><text x="53.6" y="41.8" transform="rotate(-52.1 53.6 41.8)" text-anchor="middle">S</text><text x="59.1" y="33.6" transform="rotate(-60.4 59.1 33.6)" text-anchor="middle">C</text><text x="63.9" y="23.2" transform="rotate(-70.1 63.9 23.2)" text-anchor="middle">H</text><text x="67.0" y="11.8" transform="rotate(-80.0 67.0 11.8)" text-anchor="middle">O</text><text x="68.0" y="-0.0" transform="rotate(-90.0 68.0 -0.0)" text-anchor="middle">O</text><text x="67.1" y="-11.0" transform="rotate(-99.3 67.1 -11.0)" text-anchor="middle">L</text></g><text x="-54.8" y="-23" font-size="16" text-anchor="middle">★</text><text x="54.2" y="-24" font-size="16" text-anchor="middle">★</text></g>
<text x="107.7" y="49" font-size="102" letter-spacing="14.4" font-weight="bold" fill="#f5f5f5" stroke="#f5f5f5" stroke-width="2.5" stroke-linejoin="round">志公教育</text>
<text x="324" y="-32" font-size="26" text-anchor="middle" fill="#f3f3f3">®</text>
<path d="M-80 98H550" stroke="#f3f3f3" stroke-width="2"/>
<text x="-76" y="168" font-size="50" letter-spacing="31.3" fill="#f0f0f0">专注广西公考辅导</text></g>
<g transform="translate(2356 1189) rotate(-22.3)"><circle r="73" fill="none" stroke="#fce9e9" stroke-width="3.5"/>
<circle r="48" fill="#fef3f2"/>
<circle r="52" fill="none" stroke="#fce9e9" stroke-width="1.6"/>
<circle r="48.5" fill="none" stroke="#fce9e9" stroke-width="1.2"/>
<text x="0" y="28" font-size="80" font-weight="bold" text-anchor="middle" fill="#fffafa">志</text>
<g fill="#fce8e7"><text x="-36.2" y="-44.0" transform="rotate(320.6 -36.2 -44.0)" font-size="19" font-weight="bold" text-anchor="middle">志</text><text x="-13.0" y="-55.5" transform="rotate(346.9 -13.0 -55.5)" font-size="19" font-weight="bold" text-anchor="middle">公</text><text x="13.0" y="-55.5" transform="rotate(373.1 13.0 -55.5)" font-size="19" font-weight="bold" text-anchor="middle">教</text><text x="36.2" y="-44.0" transform="rotate(399.4 36.2 -44.0)" font-size="19" font-weight="bold" text-anchor="middle">育</text><g font-family="Liberation Serif, serif" font-size="14" font-weight="bold"><text x="-67.4" y="-8.7" transform="rotate(97.4 -67.4 -8.7)" text-anchor="middle">Z</text><text x="-68.0" y="2.3" transform="rotate(88.0 -68.0 2.3)" text-anchor="middle">H</text><text x="-67.0" y="11.4" transform="rotate(80.3 -67.0 11.4)" text-anchor="middle">I</text><text x="-64.9" y="20.3" transform="rotate(72.7 -64.9 20.3)" text-anchor="middle">G</text><text x="-60.4" y="31.2" transform="rotate(62.7 -60.4 31.2)" text-anchor="middle">O</text><text x="-54.3" y="40.9" transform="rotate(53.0 -54.3 40.9)" text-anchor="middle">N</text><text x="-46.7" y="49.4" transform="rotate(43.4 -46.7 49.4)" text-anchor="middle">G</text><text x="-34.3" y="58.7" transform="rotate(30.3 -34.3 58.7)" text-anchor="middle">E</text><text x="-24.7" y="63.3" transform="rotate(21.3 -24.7 63.3)" text-anchor="middle">D</text><text x="-14.1" y="66.5" transform="rotate(12.0 -14.1 66.5)" text-anchor="middle">U</text><text x="-3.2" y="67.9" transform="rotate(2.7 -3.2 67.9)" text-anchor="middle">C</text><text x="7.8" y="67.5" transform="rotate(-6.6 7.8 67.5)" text-anchor="middle">A</text><text x="18.3" y="65.5" transform="rotate(-15.6 18.3 65.5)" text-anchor="middle">T</text><text x="26.2" y="62.8" transform="rotate(-22.6 26.2 62.8)" text-anchor="middle">I</text><text x="34.3" y="58.7" transform="rotate(-30.3 34.3 58.7)" text-anchor="middle">O</text><text x="43.7" y="52.1" transform="rotate(-40.0 43.7 52.1)" text-anchor="middle">N</text><text x="53.6" y="41.8" transform="rotate(-52.1 53.6 41.8)" text-anchor="middle">S</text><text x="59.1" y="33.6" transform="rotate(-60.4 59.1 33.6)" text-anchor="middle">C</text><text x="63.9" y="23.2" transform="rotate(-70.1 63.9 23.2)" text-anchor="middle">H</text><text x="67.0" y="11.8" transform="rotate(-80.0 67.0 11.8)" text-anchor="middle">O</text><text x="68.0" y="-0.0" transform="rotate(-90.0 68.0 -0.0)" text-anchor="middle">O</text><text x="67.1" y="-11.0" transform="rotate(-99.3 67.1 -11.0)" text-anchor="middle">L</text></g><text x="-54.8" y="-23" font-size="16" text-anchor="middle">★</text><text x="54.2" y="-24" font-size="16" text-anchor="middle">★</text></g>
<text x="107.7" y="49" font-size="102" letter-spacing="14.4" font-weight="bold" fill="#f5f5f5" stroke="#f5f5f5" stroke-width="2.5" stroke-linejoin="round">志公教育</text>
<text x="324" y="-32" font-size="26" text-anchor="middle" fill="#f3f3f3">®</text>
<path d="M-80 98H550" stroke="#f3f3f3" stroke-width="2"/>
<text x="-76" y="168" font-size="50" letter-spacing="31.3" fill="#f0f0f0">专注广西公考辅导</text></g>
<g transform="translate(2356 1835) rotate(-22.3)"><circle r="73" fill="none" stroke="#fce9e9" stroke-width="3.5"/>
<circle r="48" fill="#fef3f2"/>
<circle r="52" fill="none" stroke="#fce9e9" stroke-width="1.6"/>
<circle r="48.5" fill="none" stroke="#fce9e9" stroke-width="1.2"/>
<text x="0" y="28" font-size="80" font-weight="bold" text-anchor="middle" fill="#fffafa">志</text>
<g fill="#fce8e7"><text x="-36.2" y="-44.0" transform="rotate(320.6 -36.2 -44.0)" font-size="19" font-weight="bold" text-anchor="middle">志</text><text x="-13.0" y="-55.5" transform="rotate(346.9 -13.0 -55.5)" font-size="19" font-weight="bold" text-anchor="middle">公</text><text x="13.0" y="-55.5" transform="rotate(373.1 13.0 -55.5)" font-size="19" font-weight="bold" text-anchor="middle">教</text><text x="36.2" y="-44.0" transform="rotate(399.4 36.2 -44.0)" font-size="19" font-weight="bold" text-anchor="middle">育</text><g font-family="Liberation Serif, serif" font-size="14" font-weight="bold"><text x="-67.4" y="-8.7" transform="rotate(97.4 -67.4 -8.7)" text-anchor="middle">Z</text><text x="-68.0" y="2.3" transform="rotate(88.0 -68.0 2.3)" text-anchor="middle">H</text><text x="-67.0" y="11.4" transform="rotate(80.3 -67.0 11.4)" text-anchor="middle">I</text><text x="-64.9" y="20.3" transform="rotate(72.7 -64.9 20.3)" text-anchor="middle">G</text><text x="-60.4" y="31.2" transform="rotate(62.7 -60.4 31.2)" text-anchor="middle">O</text><text x="-54.3" y="40.9" transform="rotate(53.0 -54.3 40.9)" text-anchor="middle">N</text><text x="-46.7" y="49.4" transform="rotate(43.4 -46.7 49.4)" text-anchor="middle">G</text><text x="-34.3" y="58.7" transform="rotate(30.3 -34.3 58.7)" text-anchor="middle">E</text><text x="-24.7" y="63.3" transform="rotate(21.3 -24.7 63.3)" text-anchor="middle">D</text><text x="-14.1" y="66.5" transform="rotate(12.0 -14.1 66.5)" text-anchor="middle">U</text><text x="-3.2" y="67.9" transform="rotate(2.7 -3.2 67.9)" text-anchor="middle">C</text><text x="7.8" y="67.5" transform="rotate(-6.6 7.8 67.5)" text-anchor="middle">A</text><text x="18.3" y="65.5" transform="rotate(-15.6 18.3 65.5)" text-anchor="middle">T</text><text x="26.2" y="62.8" transform="rotate(-22.6 26.2 62.8)" text-anchor="middle">I</text><text x="34.3" y="58.7" transform="rotate(-30.3 34.3 58.7)" text-anchor="middle">O</text><text x="43.7" y="52.1" transform="rotate(-40.0 43.7 52.1)" text-anchor="middle">N</text><text x="53.6" y="41.8" transform="rotate(-52.1 53.6 41.8)" text-anchor="middle">S</text><text x="59.1" y="33.6" transform="rotate(-60.4 59.1 33.6)" text-anchor="middle">C</text><text x="63.9" y="23.2" transform="rotate(-70.1 63.9 23.2)" text-anchor="middle">H</text><text x="67.0" y="11.8" transform="rotate(-80.0 67.0 11.8)" text-anchor="middle">O</text><text x="68.0" y="-0.0" transform="rotate(-90.0 68.0 -0.0)" text-anchor="middle">O</text><text x="67.1" y="-11.0" transform="rotate(-99.3 67.1 -11.0)" text-anchor="middle">L</text></g><text x="-54.8" y="-23" font-size="16" text-anchor="middle">★</text><text x="54.2" y="-24" font-size="16" text-anchor="middle">★</text></g>
<text x="107.7" y="49" font-size="102" letter-spacing="14.4" font-weight="bold" fill="#f5f5f5" stroke="#f5f5f5" stroke-width="2.5" stroke-linejoin="round">志公教育</text>
<text x="324" y="-32" font-size="26" text-anchor="middle" fill="#f3f3f3">®</text>
<path d="M-80 98H550" stroke="#f3f3f3" stroke-width="2"/>
<text x="-76" y="168" font-size="50" letter-spacing="31.3" fill="#f0f0f0">专注广西公考辅导</text></g>
<g transform="translate(4085 -70) rotate(-22.3)"><circle r="73" fill="none" stroke="#fce9e9" stroke-width="3.5"/>
<circle r="48" fill="#fef3f2"/>
<circle r="52" fill="none" stroke="#fce9e9" stroke-width="1.6"/>
<circle r="48.5" fill="none" stroke="#fce9e9" stroke-width="1.2"/>
<text x="0" y="28" font-size="80" font-weight="bold" text-anchor="middle" fill="#fffafa">志</text>
<g fill="#fce8e7"><text x="-36.2" y="-44.0" transform="rotate(320.6 -36.2 -44.0)" font-size="19" font-weight="bold" text-anchor="middle">志</text><text x="-13.0" y="-55.5" transform="rotate(346.9 -13.0 -55.5)" font-size="19" font-weight="bold" text-anchor="middle">公</text><text x="13.0" y="-55.5" transform="rotate(373.1 13.0 -55.5)" font-size="19" font-weight="bold" text-anchor="middle">教</text><text x="36.2" y="-44.0" transform="rotate(399.4 36.2 -44.0)" font-size="19" font-weight="bold" text-anchor="middle">育</text><g font-family="Liberation Serif, serif" font-size="14" font-weight="bold"><text x="-67.4" y="-8.7" transform="rotate(97.4 -67.4 -8.7)" text-anchor="middle">Z</text><text x="-68.0" y="2.3" transform="rotate(88.0 -68.0 2.3)" text-anchor="middle">H</text><text x="-67.0" y="11.4" transform="rotate(80.3 -67.0 11.4)" text-anchor="middle">I</text><text x="-64.9" y="20.3" transform="rotate(72.7 -64.9 20.3)" text-anchor="middle">G</text><text x="-60.4" y="31.2" transform="rotate(62.7 -60.4 31.2)" text-anchor="middle">O</text><text x="-54.3" y="40.9" transform="rotate(53.0 -54.3 40.9)" text-anchor="middle">N</text><text x="-46.7" y="49.4" transform="rotate(43.4 -46.7 49.4)" text-anchor="middle">G</text><text x="-34.3" y="58.7" transform="rotate(30.3 -34.3 58.7)" text-anchor="middle">E</text><text x="-24.7" y="63.3" transform="rotate(21.3 -24.7 63.3)" text-anchor="middle">D</text><text x="-14.1" y="66.5" transform="rotate(12.0 -14.1 66.5)" text-anchor="middle">U</text><text x="-3.2" y="67.9" transform="rotate(2.7 -3.2 67.9)" text-anchor="middle">C</text><text x="7.8" y="67.5" transform="rotate(-6.6 7.8 67.5)" text-anchor="middle">A</text><text x="18.3" y="65.5" transform="rotate(-15.6 18.3 65.5)" text-anchor="middle">T</text><text x="26.2" y="62.8" transform="rotate(-22.6 26.2 62.8)" text-anchor="middle">I</text><text x="34.3" y="58.7" transform="rotate(-30.3 34.3 58.7)" text-anchor="middle">O</text><text x="43.7" y="52.1" transform="rotate(-40.0 43.7 52.1)" text-anchor="middle">N</text><text x="53.6" y="41.8" transform="rotate(-52.1 53.6 41.8)" text-anchor="middle">S</text><text x="59.1" y="33.6" transform="rotate(-60.4 59.1 33.6)" text-anchor="middle">C</text><text x="63.9" y="23.2" transform="rotate(-70.1 63.9 23.2)" text-anchor="middle">H</text><text x="67.0" y="11.8" transform="rotate(-80.0 67.0 11.8)" text-anchor="middle">O</text><text x="68.0" y="-0.0" transform="rotate(-90.0 68.0 -0.0)" text-anchor="middle">O</text><text x="67.1" y="-11.0" transform="rotate(-99.3 67.1 -11.0)" text-anchor="middle">L</text></g><text x="-54.8" y="-23" font-size="16" text-anchor="middle">★</text><text x="54.2" y="-24" font-size="16" text-anchor="middle">★</text></g>
<text x="107.7" y="49" font-size="102" letter-spacing="14.4" font-weight="bold" fill="#f5f5f5" stroke="#f5f5f5" stroke-width="2.5" stroke-linejoin="round">志公教育</text>
<text x="324" y="-32" font-size="26" text-anchor="middle" fill="#f3f3f3">®</text>
<path d="M-80 98H550" stroke="#f3f3f3" stroke-width="2"/>
<text x="-76" y="168" font-size="50" letter-spacing="31.3" fill="#f0f0f0">专注广西公考辅导</text></g>
<g transform="translate(4085 524) rotate(-22.3)"><circle r="73" fill="none" stroke="#fce9e9" stroke-width="3.5"/>
<circle r="48" fill="#fef3f2"/>
<circle r="52" fill="none" stroke="#fce9e9" stroke-width="1.6"/>
<circle r="48.5" fill="none" stroke="#fce9e9" stroke-width="1.2"/>
<text x="0" y="28" font-size="80" font-weight="bold" text-anchor="middle" fill="#fffafa">志</text>
<g fill="#fce8e7"><text x="-36.2" y="-44.0" transform="rotate(320.6 -36.2 -44.0)" font-size="19" font-weight="bold" text-anchor="middle">志</text><text x="-13.0" y="-55.5" transform="rotate(346.9 -13.0 -55.5)" font-size="19" font-weight="bold" text-anchor="middle">公</text><text x="13.0" y="-55.5" transform="rotate(373.1 13.0 -55.5)" font-size="19" font-weight="bold" text-anchor="middle">教</text><text x="36.2" y="-44.0" transform="rotate(399.4 36.2 -44.0)" font-size="19" font-weight="bold" text-anchor="middle">育</text><g font-family="Liberation Serif, serif" font-size="14" font-weight="bold"><text x="-67.4" y="-8.7" transform="rotate(97.4 -67.4 -8.7)" text-anchor="middle">Z</text><text x="-68.0" y="2.3" transform="rotate(88.0 -68.0 2.3)" text-anchor="middle">H</text><text x="-67.0" y="11.4" transform="rotate(80.3 -67.0 11.4)" text-anchor="middle">I</text><text x="-64.9" y="20.3" transform="rotate(72.7 -64.9 20.3)" text-anchor="middle">G</text><text x="-60.4" y="31.2" transform="rotate(62.7 -60.4 31.2)" text-anchor="middle">O</text><text x="-54.3" y="40.9" transform="rotate(53.0 -54.3 40.9)" text-anchor="middle">N</text><text x="-46.7" y="49.4" transform="rotate(43.4 -46.7 49.4)" text-anchor="middle">G</text><text x="-34.3" y="58.7" transform="rotate(30.3 -34.3 58.7)" text-anchor="middle">E</text><text x="-24.7" y="63.3" transform="rotate(21.3 -24.7 63.3)" text-anchor="middle">D</text><text x="-14.1" y="66.5" transform="rotate(12.0 -14.1 66.5)" text-anchor="middle">U</text><text x="-3.2" y="67.9" transform="rotate(2.7 -3.2 67.9)" text-anchor="middle">C</text><text x="7.8" y="67.5" transform="rotate(-6.6 7.8 67.5)" text-anchor="middle">A</text><text x="18.3" y="65.5" transform="rotate(-15.6 18.3 65.5)" text-anchor="middle">T</text><text x="26.2" y="62.8" transform="rotate(-22.6 26.2 62.8)" text-anchor="middle">I</text><text x="34.3" y="58.7" transform="rotate(-30.3 34.3 58.7)" text-anchor="middle">O</text><text x="43.7" y="52.1" transform="rotate(-40.0 43.7 52.1)" text-anchor="middle">N</text><text x="53.6" y="41.8" transform="rotate(-52.1 53.6 41.8)" text-anchor="middle">S</text><text x="59.1" y="33.6" transform="rotate(-60.4 59.1 33.6)" text-anchor="middle">C</text><text x="63.9" y="23.2" transform="rotate(-70.1 63.9 23.2)" text-anchor="middle">H</text><text x="67.0" y="11.8" transform="rotate(-80.0 67.0 11.8)" text-anchor="middle">O</text><text x="68.0" y="-0.0" transform="rotate(-90.0 68.0 -0.0)" text-anchor="middle">O</text><text x="67.1" y="-11.0" transform="rotate(-99.3 67.1 -11.0)" text-anchor="middle">L</text></g><text x="-54.8" y="-23" font-size="16" text-anchor="middle">★</text><text x="54.2" y="-24" font-size="16" text-anchor="middle">★</text></g>
<text x="107.7" y="49" font-size="102" letter-spacing="14.4" font-weight="bold" fill="#f5f5f5" stroke="#f5f5f5" stroke-width="2.5" stroke-linejoin="round">志公教育</text>
<text x="324" y="-32" font-size="26" text-anchor="middle" fill="#f3f3f3">®</text>
<path d="M-80 98H550" stroke="#f3f3f3" stroke-width="2"/>
<text x="-76" y="168" font-size="50" letter-spacing="31.3" fill="#f0f0f0">专注广西公考辅导</text></g>
<g transform="translate(4085 1189) rotate(-22.3)"><circle r="73" fill="none" stroke="#fce9e9" stroke-width="3.5"/>
<circle r="48" fill="#fef3f2"/>
<circle r="52" fill="none" stroke="#fce9e9" stroke-width="1.6"/>
<circle r="48.5" fill="none" stroke="#fce9e9" stroke-width="1.2"/>
<text x="0" y="28" font-size="80" font-weight="bold" text-anchor="middle" fill="#fffafa">志</text>
<g fill="#fce8e7"><text x="-36.2" y="-44.0" transform="rotate(320.6 -36.2 -44.0)" font-size="19" font-weight="bold" text-anchor="middle">志</text><text x="-13.0" y="-55.5" transform="rotate(346.9 -13.0 -55.5)" font-size="19" font-weight="bold" text-anchor="middle">公</text><text x="13.0" y="-55.5" transform="rotate(373.1 13.0 -55.5)" font-size="19" font-weight="bold" text-anchor="middle">教</text><text x="36.2" y="-44.0" transform="rotate(399.4 36.2 -44.0)" font-size="19" font-weight="bold" text-anchor="middle">育</text><g font-family="Liberation Serif, serif" font-size="14" font-weight="bold"><text x="-67.4" y="-8.7" transform="rotate(97.4 -67.4 -8.7)" text-anchor="middle">Z</text><text x="-68.0" y="2.3" transform="rotate(88.0 -68.0 2.3)" text-anchor="middle">H</text><text x="-67.0" y="11.4" transform="rotate(80.3 -67.0 11.4)" text-anchor="middle">I</text><text x="-64.9" y="20.3" transform="rotate(72.7 -64.9 20.3)" text-anchor="middle">G</text><text x="-60.4" y="31.2" transform="rotate(62.7 -60.4 31.2)" text-anchor="middle">O</text><text x="-54.3" y="40.9" transform="rotate(53.0 -54.3 40.9)" text-anchor="middle">N</text><text x="-46.7" y="49.4" transform="rotate(43.4 -46.7 49.4)" text-anchor="middle">G</text><text x="-34.3" y="58.7" transform="rotate(30.3 -34.3 58.7)" text-anchor="middle">E</text><text x="-24.7" y="63.3" transform="rotate(21.3 -24.7 63.3)" text-anchor="middle">D</text><text x="-14.1" y="66.5" transform="rotate(12.0 -14.1 66.5)" text-anchor="middle">U</text><text x="-3.2" y="67.9" transform="rotate(2.7 -3.2 67.9)" text-anchor="middle">C</text><text x="7.8" y="67.5" transform="rotate(-6.6 7.8 67.5)" text-anchor="middle">A</text><text x="18.3" y="65.5" transform="rotate(-15.6 18.3 65.5)" text-anchor="middle">T</text><text x="26.2" y="62.8" transform="rotate(-22.6 26.2 62.8)" text-anchor="middle">I</text><text x="34.3" y="58.7" transform="rotate(-30.3 34.3 58.7)" text-anchor="middle">O</text><text x="43.7" y="52.1" transform="rotate(-40.0 43.7 52.1)" text-anchor="middle">N</text><text x="53.6" y="41.8" transform="rotate(-52.1 53.6 41.8)" text-anchor="middle">S</text><text x="59.1" y="33.6" transform="rotate(-60.4 59.1 33.6)" text-anchor="middle">C</text><text x="63.9" y="23.2" transform="rotate(-70.1 63.9 23.2)" text-anchor="middle">H</text><text x="67.0" y="11.8" transform="rotate(-80.0 67.0 11.8)" text-anchor="middle">O</text><text x="68.0" y="-0.0" transform="rotate(-90.0 68.0 -0.0)" text-anchor="middle">O</text><text x="67.1" y="-11.0" transform="rotate(-99.3 67.1 -11.0)" text-anchor="middle">L</text></g><text x="-54.8" y="-23" font-size="16" text-anchor="middle">★</text><text x="54.2" y="-24" font-size="16" text-anchor="middle">★</text></g>
<text x="107.7" y="49" font-size="102" letter-spacing="14.4" font-weight="bold" fill="#f5f5f5" stroke="#f5f5f5" stroke-width="2.5" stroke-linejoin="round">志公教育</text>
<text x="324" y="-32" font-size="26" text-anchor="middle" fill="#f3f3f3">®</text>
<path d="M-80 98H550" stroke="#f3f3f3" stroke-width="2"/>
<text x="-76" y="168" font-size="50" letter-spacing="31.3" fill="#f0f0f0">专注广西公考辅导</text></g>
<g transform="translate(4085 1835) rotate(-22.3)"><circle r="73" fill="none" stroke="#fce9e9" stroke-width="3.5"/>
<circle r="48" fill="#fef3f2"/>
<circle r="52" fill="none" stroke="#fce9e9" stroke-width="1.6"/>
<circle r="48.5" fill="none" stroke="#fce9e9" stroke-width="1.2"/>
<text x="0" y="28" font-size="80" font-weight="bold" text-anchor="middle" fill="#fffafa">志</text>
<g fill="#fce8e7"><text x="-36.2" y="-44.0" transform="rotate(320.6 -36.2 -44.0)" font-size="19" font-weight="bold" text-anchor="middle">志</text><text x="-13.0" y="-55.5" transform="rotate(346.9 -13.0 -55.5)" font-size="19" font-weight="bold" text-anchor="middle">公</text><text x="13.0" y="-55.5" transform="rotate(373.1 13.0 -55.5)" font-size="19" font-weight="bold" text-anchor="middle">教</text><text x="36.2" y="-44.0" transform="rotate(399.4 36.2 -44.0)" font-size="19" font-weight="bold" text-anchor="middle">育</text><g font-family="Liberation Serif, serif" font-size="14" font-weight="bold"><text x="-67.4" y="-8.7" transform="rotate(97.4 -67.4 -8.7)" text-anchor="middle">Z</text><text x="-68.0" y="2.3" transform="rotate(88.0 -68.0 2.3)" text-anchor="middle">H</text><text x="-67.0" y="11.4" transform="rotate(80.3 -67.0 11.4)" text-anchor="middle">I</text><text x="-64.9" y="20.3" transform="rotate(72.7 -64.9 20.3)" text-anchor="middle">G</text><text x="-60.4" y="31.2" transform="rotate(62.7 -60.4 31.2)" text-anchor="middle">O</text><text x="-54.3" y="40.9" transform="rotate(53.0 -54.3 40.9)" text-anchor="middle">N</text><text x="-46.7" y="49.4" transform="rotate(43.4 -46.7 49.4)" text-anchor="middle">G</text><text x="-34.3" y="58.7" transform="rotate(30.3 -34.3 58.7)" text-anchor="middle">E</text><text x="-24.7" y="63.3" transform="rotate(21.3 -24.7 63.3)" text-anchor="middle">D</text><text x="-14.1" y="66.5" transform="rotate(12.0 -14.1 66.5)" text-anchor="middle">U</text><text x="-3.2" y="67.9" transform="rotate(2.7 -3.2 67.9)" text-anchor="middle">C</text><text x="7.8" y="67.5" transform="rotate(-6.6 7.8 67.5)" text-anchor="middle">A</text><text x="18.3" y="65.5" transform="rotate(-15.6 18.3 65.5)" text-anchor="middle">T</text><text x="26.2" y="62.8" transform="rotate(-22.6 26.2 62.8)" text-anchor="middle">I</text><text x="34.3" y="58.7" transform="rotate(-30.3 34.3 58.7)" text-anchor="middle">O</text><text x="43.7" y="52.1" transform="rotate(-40.0 43.7 52.1)" text-anchor="middle">N</text><text x="53.6" y="41.8" transform="rotate(-52.1 53.6 41.8)" text-anchor="middle">S</text><text x="59.1" y="33.6" transform="rotate(-60.4 59.1 33.6)" text-anchor="middle">C</text><text x="63.9" y="23.2" transform="rotate(-70.1 63.9 23.2)" text-anchor="middle">H</text><text x="67.0" y="11.8" transform="rotate(-80.0 67.0 11.8)" text-anchor="middle">O</text><text x="68.0" y="-0.0" transform="rotate(-90.0 68.0 -0.0)" text-anchor="middle">O</text><text x="67.1" y="-11.0" transform="rotate(-99.3 67.1 -11.0)" text-anchor="middle">L</text></g><text x="-54.8" y="-23" font-size="16" text-anchor="middle">★</text><text x="54.2" y="-24" font-size="16" text-anchor="middle">★</text></g>
<text x="107.7" y="49" font-size="102" letter-spacing="14.4" font-weight="bold" fill="#f5f5f5" stroke="#f5f5f5" stroke-width="2.5" stroke-linejoin="round">志公教育</text>
<text x="324" y="-32" font-size="26" text-anchor="middle" fill="#f3f3f3">®</text>
<path d="M-80 98H550" stroke="#f3f3f3" stroke-width="2"/>
<text x="-76" y="168" font-size="50" letter-spacing="31.3" fill="#f0f0f0">专注广西公考辅导</text></g>
</svg>
</body></html>
